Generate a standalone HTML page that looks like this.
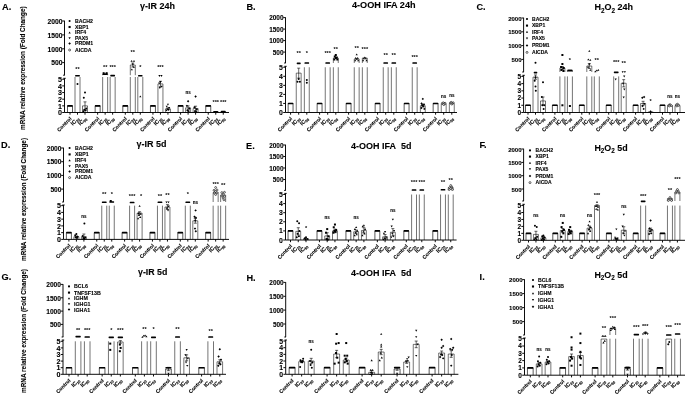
<!DOCTYPE html>
<html><head><meta charset="utf-8"><title>Figure</title>
<style>
html,body{margin:0;padding:0;background:#fff;}
svg{display:block;font-family:"Liberation Sans", sans-serif;opacity:0.999;will-change:transform;}
.b{font-weight:bold;fill:#000;stroke:#000;stroke-width:0.1px;}
.e{text-anchor:end;}
.n{stroke:none;}
.m{text-anchor:middle;}
.ax{stroke:#000;stroke-width:0.95;fill:none;}
.bar{stroke:#000;stroke-width:0.55;fill:none;}
.ctl{stroke:#000;stroke-width:0.65;}
.err{stroke:#000;stroke-width:0.6;fill:none;}
</style></head><body>
<svg width="685" height="396" viewBox="0 0 685 396">
<rect width="685" height="396" fill="#fff"/>
<text x="2" y="10.4" font-size="9.2" class="b">A.</text>
<text x="140" y="8.6" font-size="9.6" class="b" textLength="35" lengthAdjust="spacingAndGlyphs">γ-IR 24h</text>
<text transform="translate(24.8 130) rotate(-90)" font-size="6.8" class="b" textLength="123.6" lengthAdjust="spacingAndGlyphs">mRNA relative expression (Fold Change)</text>
<path class="ax" d="M64.5 20.7V75.2M64.5 78.3V112.5H229"/>
<path class="ax" d="M63.1 75.2H64.8M63.3 78.3H65.7"/>
<text x="62.5" y="23.78" font-size="6.75" class="b e">2000</text>
<text x="62.5" y="37.68" font-size="6.75" class="b e">1500</text>
<text x="62.5" y="51.58" font-size="6.75" class="b e">1000</text>
<text x="62.5" y="65.38" font-size="6.75" class="b e">500</text>
<text x="61.9" y="115.18" font-size="7.2" class="b e">0</text>
<text x="61.9" y="108.53" font-size="7.2" class="b e">1</text>
<text x="61.9" y="101.88" font-size="7.2" class="b e">2</text>
<text x="61.9" y="95.23" font-size="7.2" class="b e">3</text>
<text x="61.9" y="88.58" font-size="7.2" class="b e">4</text>
<text x="61.9" y="81.93" font-size="7.2" class="b e">5</text>
<path class="ax" d="M62.2 21H64.5M62.2 34.9H64.5M62.2 48.8H64.5M62.2 62.6H64.5M62.2 112.5H64.5M62.2 105.85H64.5M62.2 99.2H64.5M62.2 92.55H64.5M62.2 85.9H64.5M62.2 79.25H64.5"/>
<circle cx="69.6" cy="21" r="1.05"/>
<text x="75" y="22.87" font-size="5.2" class="b">BACH2</text>
<rect x="68.55" y="25.95" width="2.1" height="2.1"/>
<text x="75" y="28.87" font-size="5.2" class="b">XBP1</text>
<path d="M69.6 31.45L70.75 33.44L68.44 33.44Z"/>
<text x="75" y="34.47" font-size="5.2" class="b">IRF4</text>
<path d="M69.6 39.16L70.75 37.16L68.44 37.16Z"/>
<text x="75" y="39.87" font-size="5.2" class="b">PAX5</text>
<path d="M69.6 42.34L70.86 43.6L69.6 44.86L68.34 43.6Z"/>
<text x="75" y="45.47" font-size="5.2" class="b">PRDM1</text>
<circle cx="69.6" cy="50" r="1" fill="#fff" stroke="#000" stroke-width="0.6"/>
<text x="75" y="51.87" font-size="5.2" class="b">AICDA</text>
<text transform="translate(72 119.1) rotate(-45)" font-size="5.1" class="b e">Control</text>
<path class="bar ctl" d="M67.5 112.5V105.85H72.5V112.5"/>
<rect x="67.25" y="105.05" width="5.5" height="1.6" rx="0.6"/>
<text transform="translate(79.5 119.1) rotate(-45)" font-size="5.6" class="b e">IC<tspan font-size="3.47" dy="1.1">20</tspan></text>
<path class="bar" d="M75 112.5V77M80 112.5V77"/>
<rect x="75.1" y="75" width="4.8" height="1.6" rx="0.6"/>
<circle cx="77.5" cy="83.91" r="1"/>
<text x="77.5" y="70.6" font-size="5.6" class="b m n">**</text>
<text transform="translate(87 119.1) rotate(-45)" font-size="5.6" class="b e">IC<tspan font-size="3.47" dy="1.1">50</tspan></text>
<path class="bar" d="M82.5 112.5V105.85H87.5V112.5"/>
<path class="err" d="M85 101.86V109.84M83.5 101.86h3M83.5 109.84h3"/>
<circle cx="85" cy="92.55" r="1"/>
<circle cx="83.8" cy="97.87" r="1"/>
<circle cx="86.2" cy="108.51" r="1"/>
<circle cx="84.4" cy="109.84" r="1"/>
<circle cx="85.6" cy="110.5" r="1"/>
<circle cx="83.5" cy="111.17" r="1"/>
<text transform="translate(99.65 119.1) rotate(-45)" font-size="5.1" class="b e">Control</text>
<path class="bar ctl" d="M95.15 112.5V105.85H100.15V112.5"/>
<rect x="94.9" y="105.05" width="5.5" height="1.6" rx="0.6"/>
<text transform="translate(107.15 119.1) rotate(-45)" font-size="5.6" class="b e">IC<tspan font-size="3.47" dy="1.1">20</tspan></text>
<path class="bar" d="M102.65 112.5V77M107.65 112.5V77"/>
<path class="bar" d="M102.65 75.2V74H107.65V75.2"/>
<rect x="102.75" y="73.4" width="4.8" height="1.6" rx="0.6"/>
<rect x="102.65" y="72.2" width="2" height="2"/>
<rect x="105.65" y="72.2" width="2" height="2"/>
<text x="105.15" y="69" font-size="5.6" class="b m n">**</text>
<text transform="translate(114.65 119.1) rotate(-45)" font-size="5.6" class="b e">IC<tspan font-size="3.47" dy="1.1">50</tspan></text>
<path class="bar" d="M110.15 112.5V77M115.15 112.5V77"/>
<rect x="110.25" y="74.8" width="4.8" height="1.6" rx="0.6"/>
<text x="112.65" y="69" font-size="5.6" class="b m n">***</text>
<text transform="translate(127.3 119.1) rotate(-45)" font-size="5.1" class="b e">Control</text>
<path class="bar ctl" d="M122.8 112.5V105.85H127.8V112.5"/>
<rect x="122.55" y="105.05" width="5.5" height="1.6" rx="0.6"/>
<text transform="translate(134.8 119.1) rotate(-45)" font-size="5.6" class="b e">IC<tspan font-size="3.47" dy="1.1">20</tspan></text>
<path class="bar" d="M130.3 112.5V77M135.3 112.5V77"/>
<path class="bar" d="M130.3 75.2V65H135.3V75.2"/>
<path class="err" d="M132.8 63V67M131.3 63h3M131.3 67h3"/>
<path d="M131.6 59.9L132.7 61.8L130.5 61.8Z"/>
<path d="M134 59.9L135.1 61.8L132.9 61.8Z"/>
<path d="M132.8 62.9L133.9 64.8L131.7 64.8Z"/>
<path d="M133.8 65.9L134.9 67.8L132.7 67.8Z"/>
<path d="M131.8 68.4L132.9 70.3L130.7 70.3Z"/>
<text x="132.8" y="54.2" font-size="5.6" class="b m n">**</text>
<text transform="translate(142.3 119.1) rotate(-45)" font-size="5.6" class="b e">IC<tspan font-size="3.47" dy="1.1">50</tspan></text>
<path class="bar" d="M137.8 112.5V77M142.8 112.5V77"/>
<rect x="138.05" y="75" width="4.5" height="1.6" rx="0.6"/>
<path d="M140.3 95.44L141.4 97.34L139.2 97.34Z"/>
<text x="140.3" y="68.6" font-size="5.6" class="b m n">*</text>
<text transform="translate(154.95 119.1) rotate(-45)" font-size="5.1" class="b e">Control</text>
<path class="bar ctl" d="M150.45 112.5V105.85H155.45V112.5"/>
<rect x="150.2" y="105.05" width="5.5" height="1.6" rx="0.6"/>
<text transform="translate(162.45 119.1) rotate(-45)" font-size="5.6" class="b e">IC<tspan font-size="3.47" dy="1.1">20</tspan></text>
<path class="bar" d="M157.95 112.5V83.91H162.95V112.5"/>
<path class="err" d="M160.45 81.25V86.56M158.95 81.25h3M158.95 86.56h3"/>
<path d="M160.45 83.01L161.55 81.11L159.35 81.11Z"/>
<path d="M159.25 84.34L160.35 82.44L158.15 82.44Z"/>
<path d="M161.65 87.66L162.75 85.77L160.55 85.77Z"/>
<path d="M159.85 88.99L160.95 87.09L158.75 87.09Z"/>
<path d="M159.45 76.9L160.55 75L158.35 75Z"/>
<path d="M161.45 76.9L162.55 75L160.35 75Z"/>
<text x="160.45" y="68.6" font-size="5.6" class="b m n">***</text>
<text transform="translate(169.95 119.1) rotate(-45)" font-size="5.6" class="b e">IC<tspan font-size="3.47" dy="1.1">50</tspan></text>
<path class="bar" d="M165.45 112.5V108.84H170.45V112.5"/>
<path class="err" d="M167.95 107.84V109.84M166.45 107.84h3M166.45 109.84h3"/>
<path d="M167.95 105.62L169.05 103.72L166.85 103.72Z"/>
<path d="M166.75 107.61L167.85 105.72L165.65 105.72Z"/>
<path d="M169.15 108.94L170.25 107.05L168.05 107.05Z"/>
<path d="M167.35 110.27L168.45 108.38L166.25 108.38Z"/>
<path d="M168.55 110.94L169.65 109.04L167.45 109.04Z"/>
<path d="M166.45 111.6L167.55 109.7L165.35 109.7Z"/>
<text transform="translate(182.6 119.1) rotate(-45)" font-size="5.1" class="b e">Control</text>
<path class="bar ctl" d="M178.1 112.5V105.85H183.1V112.5"/>
<rect x="177.85" y="105.05" width="5.5" height="1.6" rx="0.6"/>
<text transform="translate(190.1 119.1) rotate(-45)" font-size="5.6" class="b e">IC<tspan font-size="3.47" dy="1.1">20</tspan></text>
<path class="bar" d="M185.6 112.5V107.84H190.6V112.5"/>
<path class="err" d="M188.1 105.85V109.84M186.6 105.85h3M186.6 109.84h3"/>
<path d="M188.1 99.99L189.3 101.19L188.1 102.39L186.9 101.19Z"/>
<path d="M186.9 104.65L188.1 105.85L186.9 107.05L185.7 105.85Z"/>
<path d="M189.3 107.31L190.5 108.51L189.3 109.71L188.1 108.51Z"/>
<path d="M187.5 109.3L188.7 110.5L187.5 111.7L186.3 110.5Z"/>
<path d="M188.7 109.97L189.9 111.17L188.7 112.37L187.5 111.17Z"/>
<text x="188.1" y="93.9" font-size="4.5" class="b m">ns</text>
<text transform="translate(197.6 119.1) rotate(-45)" font-size="5.6" class="b e">IC<tspan font-size="3.47" dy="1.1">50</tspan></text>
<path class="bar" d="M193.1 112.5V108.51H198.1V112.5"/>
<path class="err" d="M195.6 106.18V110.84M194.1 106.18h3M194.1 110.84h3"/>
<path d="M195.6 95.34L196.8 96.54L195.6 97.74L194.4 96.54Z"/>
<path d="M194.4 105.98L195.6 107.18L194.4 108.38L193.2 107.18Z"/>
<path d="M196.8 107.97L198 109.17L196.8 110.38L195.6 109.17Z"/>
<path d="M195 109.97L196.2 111.17L195 112.37L193.8 111.17Z"/>
<path d="M196.2 110.63L197.4 111.83L196.2 113.03L195 111.83Z"/>
<text transform="translate(210.25 119.1) rotate(-45)" font-size="5.1" class="b e">Control</text>
<path class="bar ctl" d="M205.75 112.5V105.85H210.75V112.5"/>
<rect x="205.5" y="105.05" width="5.5" height="1.6" rx="0.6"/>
<text transform="translate(217.75 119.1) rotate(-45)" font-size="5.6" class="b e">IC<tspan font-size="3.47" dy="1.1">20</tspan></text>
<path class="bar" d="M213.25 112.5V111.83H218.25V112.5"/>
<rect x="213.35" y="110.9" width="4.8" height="1.6" rx="0.6"/>
<text x="215.75" y="103.6" font-size="5.6" class="b m n">***</text>
<text transform="translate(225.25 119.1) rotate(-45)" font-size="5.6" class="b e">IC<tspan font-size="3.47" dy="1.1">50</tspan></text>
<path class="bar" d="M220.75 112.5V111.83H225.75V112.5"/>
<rect x="220.85" y="110.77" width="4.8" height="1.6" rx="0.6"/>
<text x="223.25" y="103.6" font-size="5.6" class="b m n">***</text>
<path class="ax" d="M70 112.5v2.2M77.5 112.5v2.2M85 112.5v2.2M97.65 112.5v2.2M105.15 112.5v2.2M112.65 112.5v2.2M125.3 112.5v2.2M132.8 112.5v2.2M140.3 112.5v2.2M152.95 112.5v2.2M160.45 112.5v2.2M167.95 112.5v2.2M180.6 112.5v2.2M188.1 112.5v2.2M195.6 112.5v2.2M208.25 112.5v2.2M215.75 112.5v2.2M223.25 112.5v2.2"/>
<text x="246.4" y="9.6" font-size="9.2" class="b">B.</text>
<text x="352" y="8.4" font-size="9.6" class="b" textLength="63.6" lengthAdjust="spacingAndGlyphs">4-OOH IFA 24h</text>
<path class="ax" d="M285.5 17.3V63M285.5 66.3V112.5H457"/>
<path class="ax" d="M284.1 63H285.8M284.3 66.3H286.7"/>
<text x="283.5" y="20.27" font-size="6.45" class="b e">2000</text>
<text x="283.5" y="31.77" font-size="6.45" class="b e">1500</text>
<text x="283.5" y="43.27" font-size="6.45" class="b e">1000</text>
<text x="283.5" y="54.77" font-size="6.45" class="b e">500</text>
<text x="282.9" y="115.07" font-size="6.9" class="b e">0</text>
<text x="282.9" y="106.02" font-size="6.9" class="b e">1</text>
<text x="282.9" y="96.97" font-size="6.9" class="b e">2</text>
<text x="282.9" y="87.92" font-size="6.9" class="b e">3</text>
<text x="282.9" y="78.87" font-size="6.9" class="b e">4</text>
<text x="282.9" y="69.82" font-size="6.9" class="b e">5</text>
<path class="ax" d="M283.2 17.6H285.5M283.2 29.1H285.5M283.2 40.6H285.5M283.2 52.1H285.5M283.2 112.5H285.5M283.2 103.45H285.5M283.2 94.4H285.5M283.2 85.35H285.5M283.2 76.3H285.5M283.2 67.25H285.5"/>
<text transform="translate(292.6 119.1) rotate(-45)" font-size="5.1" class="b e">Control</text>
<path class="bar ctl" d="M288.15 112.5V103.45H293.05V112.5"/>
<rect x="287.9" y="102.65" width="5.4" height="1.6" rx="0.6"/>
<text transform="translate(300.7 119.1) rotate(-45)" font-size="5.6" class="b e">IC<tspan font-size="3.47" dy="1.1">20</tspan></text>
<path class="bar" d="M296.25 112.5V73.13H301.15V112.5"/>
<path class="err" d="M298.7 68.15V78.11M297.2 68.15h3M297.2 78.11h3"/>
<rect x="296.7" y="62.6" width="4" height="1.6" rx="0.6"/>
<circle cx="298.7" cy="79.01" r="1"/>
<circle cx="297.5" cy="81.73" r="1"/>
<circle cx="299.9" cy="81.73" r="1"/>
<text x="298.7" y="54.6" font-size="5.6" class="b m n">**</text>
<text transform="translate(308.8 119.1) rotate(-45)" font-size="5.6" class="b e">IC<tspan font-size="3.47" dy="1.1">50</tspan></text>
<path class="bar" d="M304.35 112.5V67.25M309.25 112.5V67.25"/>
<rect x="304.45" y="62.2" width="4.7" height="1.6" rx="0.6"/>
<circle cx="306.8" cy="79.92" r="1"/>
<circle cx="306.8" cy="82.63" r="1"/>
<text x="306.8" y="54.6" font-size="5.6" class="b m n">*</text>
<text transform="translate(321.6 119.1) rotate(-45)" font-size="5.1" class="b e">Control</text>
<path class="bar ctl" d="M317.15 112.5V103.45H322.05V112.5"/>
<rect x="316.9" y="102.65" width="5.4" height="1.6" rx="0.6"/>
<text transform="translate(329.7 119.1) rotate(-45)" font-size="5.6" class="b e">IC<tspan font-size="3.47" dy="1.1">20</tspan></text>
<path class="bar" d="M325.25 112.5V67.25M330.15 112.5V67.25"/>
<rect x="325.35" y="62.2" width="4.7" height="1.6" rx="0.6"/>
<text x="327.7" y="54.6" font-size="5.6" class="b m n">***</text>
<text transform="translate(337.8 119.1) rotate(-45)" font-size="5.6" class="b e">IC<tspan font-size="3.47" dy="1.1">50</tspan></text>
<path class="bar" d="M333.35 112.5V67.25M338.25 112.5V67.25"/>
<path class="bar" d="M333.35 63V58H338.25V63"/>
<rect x="333.3" y="58.5" width="2" height="2"/>
<rect x="336.3" y="58.5" width="2" height="2"/>
<rect x="334.8" y="57" width="2" height="2"/>
<rect x="333.8" y="55.5" width="2" height="2"/>
<rect x="335.8" y="56.5" width="2" height="2"/>
<rect x="334.8" y="54" width="2" height="2"/>
<text x="335.8" y="51.2" font-size="5.6" class="b m n">**</text>
<text transform="translate(350.6 119.1) rotate(-45)" font-size="5.1" class="b e">Control</text>
<path class="bar ctl" d="M346.15 112.5V103.45H351.05V112.5"/>
<rect x="345.9" y="102.65" width="5.4" height="1.6" rx="0.6"/>
<text transform="translate(358.7 119.1) rotate(-45)" font-size="5.6" class="b e">IC<tspan font-size="3.47" dy="1.1">20</tspan></text>
<path class="bar" d="M354.25 112.5V67.25M359.15 112.5V67.25"/>
<path class="bar" d="M354.25 63V59H359.15V63"/>
<path d="M355.2 59.4L356.3 61.3L354.1 61.3Z"/>
<path d="M358.2 59.4L359.3 61.3L357.1 61.3Z"/>
<path d="M356.7 57.9L357.8 59.8L355.6 59.8Z"/>
<path d="M355.7 56.9L356.8 58.8L354.6 58.8Z"/>
<path d="M357.7 56.9L358.8 58.8L356.6 58.8Z"/>
<path d="M356.7 53.4L357.8 55.3L355.6 55.3Z"/>
<text x="356.7" y="50.2" font-size="5.6" class="b m n">**</text>
<text transform="translate(366.8 119.1) rotate(-45)" font-size="5.6" class="b e">IC<tspan font-size="3.47" dy="1.1">50</tspan></text>
<path class="bar" d="M362.35 112.5V67.25M367.25 112.5V67.25"/>
<path class="bar" d="M362.35 63V58H367.25V63"/>
<path d="M363.1 59.4L364.2 61.3L362 61.3Z"/>
<path d="M366.5 59.4L367.6 61.3L365.4 61.3Z"/>
<path d="M363.8 57.4L364.9 59.3L362.7 59.3Z"/>
<path d="M365.8 57.4L366.9 59.3L364.7 59.3Z"/>
<path d="M364.8 56.4L365.9 58.3L363.7 58.3Z"/>
<text x="364.8" y="51.2" font-size="5.6" class="b m n">***</text>
<text transform="translate(379.6 119.1) rotate(-45)" font-size="5.1" class="b e">Control</text>
<path class="bar ctl" d="M375.15 112.5V103.45H380.05V112.5"/>
<rect x="374.9" y="102.65" width="5.4" height="1.6" rx="0.6"/>
<text transform="translate(387.7 119.1) rotate(-45)" font-size="5.6" class="b e">IC<tspan font-size="3.47" dy="1.1">20</tspan></text>
<path class="bar" d="M383.25 112.5V67.25M388.15 112.5V67.25"/>
<rect x="383.35" y="62.2" width="4.7" height="1.6" rx="0.6"/>
<text x="385.7" y="56.6" font-size="5.6" class="b m n">**</text>
<text transform="translate(395.8 119.1) rotate(-45)" font-size="5.6" class="b e">IC<tspan font-size="3.47" dy="1.1">50</tspan></text>
<path class="bar" d="M391.35 112.5V67.25M396.25 112.5V67.25"/>
<rect x="391.45" y="62.2" width="4.7" height="1.6" rx="0.6"/>
<text x="393.8" y="56.6" font-size="5.6" class="b m n">**</text>
<text transform="translate(408.6 119.1) rotate(-45)" font-size="5.1" class="b e">Control</text>
<path class="bar ctl" d="M404.15 112.5V103.45H409.05V112.5"/>
<rect x="403.9" y="102.65" width="5.4" height="1.6" rx="0.6"/>
<text transform="translate(416.7 119.1) rotate(-45)" font-size="5.6" class="b e">IC<tspan font-size="3.47" dy="1.1">20</tspan></text>
<path class="bar" d="M412.25 112.5V67.25M417.15 112.5V67.25"/>
<rect x="412.35" y="62.2" width="4.7" height="1.6" rx="0.6"/>
<text x="414.7" y="58.6" font-size="5.6" class="b m n">***</text>
<text transform="translate(424.8 119.1) rotate(-45)" font-size="5.6" class="b e">IC<tspan font-size="3.47" dy="1.1">50</tspan></text>
<path class="bar" d="M420.35 112.5V105.71H425.25V112.5"/>
<path class="err" d="M422.8 104.36V107.07M421.3 104.36h3M421.3 107.07h3"/>
<path d="M422.8 97.72L424 98.92L422.8 100.12L421.6 98.92Z"/>
<path d="M421.6 102.25L422.8 103.45L421.6 104.65L420.4 103.45Z"/>
<path d="M424 103.16L425.2 104.36L424 105.56L422.8 104.36Z"/>
<path d="M422.2 104.06L423.4 105.26L422.2 106.46L421 105.26Z"/>
<path d="M423.4 104.97L424.6 106.17L423.4 107.37L422.2 106.17Z"/>
<path d="M421.3 106.77L422.5 107.97L421.3 109.17L420.1 107.97Z"/>
<path d="M424.3 107.68L425.5 108.88L424.3 110.08L423.1 108.88Z"/>
<text transform="translate(437.6 119.1) rotate(-45)" font-size="5.1" class="b e">Control</text>
<path class="bar ctl" d="M433.15 112.5V103.45H438.05V112.5"/>
<rect x="432.9" y="102.65" width="5.4" height="1.6" rx="0.6"/>
<text transform="translate(445.7 119.1) rotate(-45)" font-size="5.6" class="b e">IC<tspan font-size="3.47" dy="1.1">20</tspan></text>
<path class="bar" d="M441.25 112.5V103.9H446.15V112.5"/>
<circle cx="442.3" cy="103.45" r="0.95" fill="#fff" stroke="#000" stroke-width="0.6"/>
<circle cx="445.1" cy="103.27" r="0.95" fill="#fff" stroke="#000" stroke-width="0.6"/>
<circle cx="443.2" cy="102.73" r="0.95" fill="#fff" stroke="#000" stroke-width="0.6"/>
<circle cx="444.3" cy="103.9" r="0.95" fill="#fff" stroke="#000" stroke-width="0.6"/>
<circle cx="443.7" cy="104.54" r="0.95" fill="#fff" stroke="#000" stroke-width="0.6"/>
<text x="443.7" y="98.3" font-size="4.5" class="b m">ns</text>
<text transform="translate(453.8 119.1) rotate(-45)" font-size="5.6" class="b e">IC<tspan font-size="3.47" dy="1.1">50</tspan></text>
<path class="bar" d="M449.35 112.5V103.45H454.25V112.5"/>
<circle cx="450.4" cy="103" r="0.95" fill="#fff" stroke="#000" stroke-width="0.6"/>
<circle cx="453.2" cy="102.73" r="0.95" fill="#fff" stroke="#000" stroke-width="0.6"/>
<circle cx="451.3" cy="102.36" r="0.95" fill="#fff" stroke="#000" stroke-width="0.6"/>
<circle cx="452.4" cy="103.45" r="0.95" fill="#fff" stroke="#000" stroke-width="0.6"/>
<circle cx="451.8" cy="104.08" r="0.95" fill="#fff" stroke="#000" stroke-width="0.6"/>
<text x="451.8" y="97.3" font-size="4.5" class="b m">ns</text>
<path class="ax" d="M290.6 112.5v2.2M298.7 112.5v2.2M306.8 112.5v2.2M319.6 112.5v2.2M327.7 112.5v2.2M335.8 112.5v2.2M348.6 112.5v2.2M356.7 112.5v2.2M364.8 112.5v2.2M377.6 112.5v2.2M385.7 112.5v2.2M393.8 112.5v2.2M406.6 112.5v2.2M414.7 112.5v2.2M422.8 112.5v2.2M435.6 112.5v2.2M443.7 112.5v2.2M451.8 112.5v2.2"/>
<text x="476.4" y="9.8" font-size="9.2" class="b">C.</text>
<text x="594.4" y="10.4" font-size="9.6" class="b" textLength="38.6" lengthAdjust="spacingAndGlyphs">H<tspan font-size="6.8" dy="2.4">2</tspan><tspan dy="-2.4">O</tspan><tspan font-size="6.8" dy="2.4">2</tspan><tspan dy="-2.4"> 24h</tspan></text>
<path class="ax" d="M523.6 17.7V72M523.6 75.3V112.5H685"/>
<path class="ax" d="M522.2 72H523.9M522.4 75.3H524.8"/>
<text x="521.6" y="20.52" font-size="6.05" class="b e">2000</text>
<text x="521.6" y="34.32" font-size="6.05" class="b e">1500</text>
<text x="521.6" y="48.12" font-size="6.05" class="b e">1000</text>
<text x="521.6" y="61.92" font-size="6.05" class="b e">500</text>
<text x="521" y="114.92" font-size="6.5" class="b e">0</text>
<text x="521" y="107.7" font-size="6.5" class="b e">1</text>
<text x="521" y="100.48" font-size="6.5" class="b e">2</text>
<text x="521" y="93.26" font-size="6.5" class="b e">3</text>
<text x="521" y="86.04" font-size="6.5" class="b e">4</text>
<text x="521" y="78.82" font-size="6.5" class="b e">5</text>
<path class="ax" d="M521.3 18H523.6M521.3 31.8H523.6M521.3 45.6H523.6M521.3 59.4H523.6M521.3 112.5H523.6M521.3 105.28H523.6M521.3 98.06H523.6M521.3 90.84H523.6M521.3 83.62H523.6M521.3 76.4H523.6"/>
<circle cx="527" cy="19" r="1.05"/>
<text x="532" y="20.82" font-size="5.05" class="b">BACH2</text>
<rect x="525.95" y="24.55" width="2.1" height="2.1"/>
<text x="532" y="27.42" font-size="5.05" class="b">XBP1</text>
<path d="M527 30.84L528.15 32.84L525.85 32.84Z"/>
<text x="532" y="33.82" font-size="5.05" class="b">IRF4</text>
<path d="M527 39.55L528.15 37.56L525.85 37.56Z"/>
<text x="532" y="40.22" font-size="5.05" class="b">PAX5</text>
<path d="M527 44.14L528.26 45.4L527 46.66L525.74 45.4Z"/>
<text x="532" y="47.22" font-size="5.05" class="b">PRDM1</text>
<circle cx="527" cy="52.4" r="1" fill="#fff" stroke="#000" stroke-width="0.6"/>
<text x="532" y="54.22" font-size="5.05" class="b">AICDA</text>
<text transform="translate(530 119.1) rotate(-45)" font-size="5.1" class="b e">Control</text>
<path class="bar ctl" d="M525.5 112.5V105.28H530.5V112.5"/>
<rect x="525.25" y="104.48" width="5.5" height="1.6" rx="0.6"/>
<text transform="translate(537.5 119.1) rotate(-45)" font-size="5.6" class="b e">IC<tspan font-size="3.47" dy="1.1">20</tspan></text>
<path class="bar" d="M533 112.5V77.12H538V112.5"/>
<path class="err" d="M535.5 74.96V79.29M534 74.96h3M534 79.29h3"/>
<rect x="533.7" y="71.8" width="3.6" height="1.6" rx="0.6"/>
<circle cx="535.5" cy="62.7" r="1"/>
<circle cx="535.5" cy="77.48" r="1"/>
<circle cx="534.7" cy="80.73" r="1"/>
<circle cx="535.5" cy="86.51" r="1"/>
<circle cx="535.8" cy="90.84" r="1"/>
<text transform="translate(545 119.1) rotate(-45)" font-size="5.6" class="b e">IC<tspan font-size="3.47" dy="1.1">50</tspan></text>
<path class="bar" d="M540.5 112.5V100.95H545.5V112.5"/>
<path class="err" d="M543 96.98V104.92M541.5 96.98h3M541.5 104.92h3"/>
<circle cx="543" cy="82.18" r="1"/>
<circle cx="541.8" cy="96.98" r="1"/>
<circle cx="544.2" cy="105.28" r="1"/>
<circle cx="542.4" cy="105.28" r="1"/>
<circle cx="543.6" cy="108.89" r="1"/>
<text transform="translate(556.9 119.1) rotate(-45)" font-size="5.1" class="b e">Control</text>
<path class="bar ctl" d="M552.4 112.5V105.28H557.4V112.5"/>
<rect x="552.15" y="104.48" width="5.5" height="1.6" rx="0.6"/>
<text transform="translate(564.4 119.1) rotate(-45)" font-size="5.6" class="b e">IC<tspan font-size="3.47" dy="1.1">20</tspan></text>
<path class="bar" d="M559.9 112.5V76.4M564.9 112.5V76.4"/>
<path class="bar" d="M559.9 72V68H564.9V72"/>
<path class="err" d="M562.4 66.5V69.5M560.9 66.5h3M560.9 69.5h3"/>
<rect x="561.4" y="54" width="2" height="2"/>
<rect x="561.4" y="63" width="2" height="2"/>
<rect x="560.1" y="66" width="2" height="2"/>
<rect x="562.7" y="67" width="2" height="2"/>
<rect x="560.4" y="69" width="2" height="2"/>
<rect x="562.4" y="70" width="2" height="2"/>
<rect x="561.4" y="104.28" width="2" height="2"/>
<text transform="translate(571.9 119.1) rotate(-45)" font-size="5.6" class="b e">IC<tspan font-size="3.47" dy="1.1">50</tspan></text>
<path class="bar" d="M567.4 112.5V76.4M572.4 112.5V76.4"/>
<path class="bar" d="M567.4 72V70H572.4V72"/>
<rect x="567.5" y="69.8" width="4.8" height="1.6" rx="0.6"/>
<rect x="568.9" y="105" width="2" height="2"/>
<text x="569.9" y="62" font-size="5.6" class="b m n">*</text>
<text transform="translate(583.8 119.1) rotate(-45)" font-size="5.1" class="b e">Control</text>
<path class="bar ctl" d="M579.3 112.5V105.28H584.3V112.5"/>
<rect x="579.05" y="104.48" width="5.5" height="1.6" rx="0.6"/>
<text transform="translate(591.3 119.1) rotate(-45)" font-size="5.6" class="b e">IC<tspan font-size="3.47" dy="1.1">20</tspan></text>
<path class="bar" d="M586.8 112.5V76.4M591.8 112.5V76.4"/>
<path class="bar" d="M586.8 72V66H591.8V72"/>
<path class="err" d="M589.3 63.5V68.5M587.8 63.5h3M587.8 68.5h3"/>
<path d="M589.3 49.9L590.4 51.8L588.2 51.8Z"/>
<path d="M588.3 58.4L589.4 60.3L587.2 60.3Z"/>
<path d="M590.3 58.9L591.4 60.8L589.2 60.8Z"/>
<path d="M589.3 62.9L590.4 64.8L588.2 64.8Z"/>
<path d="M588.1 65.9L589.2 67.8L587 67.8Z"/>
<path d="M590.3 68.9L591.4 70.8L589.2 70.8Z"/>
<text transform="translate(598.8 119.1) rotate(-45)" font-size="5.6" class="b e">IC<tspan font-size="3.47" dy="1.1">50</tspan></text>
<path class="bar" d="M594.3 112.5V76.4M599.3 112.5V76.4"/>
<path d="M595.3 70.4L596.4 72.3L594.2 72.3Z"/>
<path d="M596.8 69.4L597.9 71.3L595.7 71.3Z"/>
<path d="M598.3 68.9L599.4 70.8L597.2 70.8Z"/>
<text x="596.8" y="62" font-size="5.6" class="b m n">**</text>
<text transform="translate(610.7 119.1) rotate(-45)" font-size="5.1" class="b e">Control</text>
<path class="bar ctl" d="M606.2 112.5V105.28H611.2V112.5"/>
<rect x="605.95" y="104.48" width="5.5" height="1.6" rx="0.6"/>
<text transform="translate(618.2 119.1) rotate(-45)" font-size="5.6" class="b e">IC<tspan font-size="3.47" dy="1.1">20</tspan></text>
<path class="bar" d="M613.7 112.5V76.4M618.7 112.5V76.4"/>
<rect x="613.8" y="71.6" width="4.8" height="1.6" rx="0.6"/>
<path d="M615.7 80.39L616.8 78.49L614.6 78.49Z"/>
<text x="616.2" y="63.6" font-size="5.6" class="b m n">***</text>
<text transform="translate(625.7 119.1) rotate(-45)" font-size="5.6" class="b e">IC<tspan font-size="3.47" dy="1.1">50</tspan></text>
<path class="bar" d="M621.2 112.5V83.26H626.2V112.5"/>
<path class="err" d="M623.7 79.65V86.87M622.2 79.65h3M622.2 86.87h3"/>
<path d="M622.7 73.1L623.8 71.2L621.6 71.2Z"/>
<path d="M624.9 73.1L626 71.2L623.8 71.2Z"/>
<path d="M624.2 77.5L625.3 75.6L623.1 75.6Z"/>
<path d="M623.1 84.72L624.2 82.82L622 82.82Z"/>
<path d="M624.3 90.5L625.4 88.6L623.2 88.6Z"/>
<path d="M623.7 98.44L624.8 96.54L622.6 96.54Z"/>
<text x="623.7" y="65.2" font-size="5.6" class="b m n">**</text>
<text transform="translate(637.6 119.1) rotate(-45)" font-size="5.1" class="b e">Control</text>
<path class="bar ctl" d="M633.1 112.5V105.28H638.1V112.5"/>
<rect x="632.85" y="104.48" width="5.5" height="1.6" rx="0.6"/>
<text transform="translate(645.1 119.1) rotate(-45)" font-size="5.6" class="b e">IC<tspan font-size="3.47" dy="1.1">20</tspan></text>
<path class="bar" d="M640.6 112.5V103.47H645.6V112.5"/>
<path class="err" d="M643.1 101.31V105.64M641.6 101.31h3M641.6 105.64h3"/>
<path d="M642.3 96.5L643.5 97.7L642.3 98.9L641.1 97.7Z"/>
<path d="M644.1 95.78L645.3 96.98L644.1 98.18L642.9 96.98Z"/>
<path d="M644.3 102.64L645.5 103.84L644.3 105.04L643.1 103.84Z"/>
<path d="M642.5 104.8L643.7 106L642.5 107.2L641.3 106Z"/>
<path d="M643.7 107.69L644.9 108.89L643.7 110.09L642.5 108.89Z"/>
<text transform="translate(652.6 119.1) rotate(-45)" font-size="5.6" class="b e">IC<tspan font-size="3.47" dy="1.1">50</tspan></text>
<path class="bar" d="M648.1 112.5V111.92H653.1V112.5"/>
<path d="M650.6 110.22L651.8 111.42L650.6 112.62L649.4 111.42Z"/>
<text x="650.6" y="103.1" font-size="5.6" class="b m n">*</text>
<text transform="translate(664.5 119.1) rotate(-45)" font-size="5.1" class="b e">Control</text>
<path class="bar ctl" d="M660 112.5V105.28H665V112.5"/>
<rect x="659.75" y="104.48" width="5.5" height="1.6" rx="0.6"/>
<text transform="translate(672 119.1) rotate(-45)" font-size="5.6" class="b e">IC<tspan font-size="3.47" dy="1.1">20</tspan></text>
<path class="bar" d="M667.5 112.5V105.64H672.5V112.5"/>
<circle cx="670" cy="104.56" r="0.95" fill="#fff" stroke="#000" stroke-width="0.6"/>
<circle cx="668.8" cy="105.28" r="0.95" fill="#fff" stroke="#000" stroke-width="0.6"/>
<circle cx="671.2" cy="105.64" r="0.95" fill="#fff" stroke="#000" stroke-width="0.6"/>
<circle cx="669.4" cy="106" r="0.95" fill="#fff" stroke="#000" stroke-width="0.6"/>
<text x="670" y="98.3" font-size="4.5" class="b m">ns</text>
<text transform="translate(679.5 119.1) rotate(-45)" font-size="5.6" class="b e">IC<tspan font-size="3.47" dy="1.1">50</tspan></text>
<path class="bar" d="M675 112.5V105.64H680V112.5"/>
<circle cx="677.5" cy="104.2" r="0.95" fill="#fff" stroke="#000" stroke-width="0.6"/>
<circle cx="676.3" cy="104.92" r="0.95" fill="#fff" stroke="#000" stroke-width="0.6"/>
<circle cx="678.7" cy="105.28" r="0.95" fill="#fff" stroke="#000" stroke-width="0.6"/>
<circle cx="676.9" cy="106" r="0.95" fill="#fff" stroke="#000" stroke-width="0.6"/>
<text x="677.5" y="98.3" font-size="4.5" class="b m">ns</text>
<path class="ax" d="M528 112.5v2.2M535.5 112.5v2.2M543 112.5v2.2M554.9 112.5v2.2M562.4 112.5v2.2M569.9 112.5v2.2M581.8 112.5v2.2M589.3 112.5v2.2M596.8 112.5v2.2M608.7 112.5v2.2M616.2 112.5v2.2M623.7 112.5v2.2M635.6 112.5v2.2M643.1 112.5v2.2M650.6 112.5v2.2M662.5 112.5v2.2M670 112.5v2.2M677.5 112.5v2.2"/>
<text x="1" y="148" font-size="9.2" class="b">D.</text>
<text x="136.4" y="147.4" font-size="9.6" class="b" textLength="30" lengthAdjust="spacingAndGlyphs">γ-IR 5d</text>
<text transform="translate(26.2 261) rotate(-90)" font-size="6.8" class="b" textLength="123" lengthAdjust="spacingAndGlyphs">mRNA relative expression (Fold Change)</text>
<path class="ax" d="M63.5 147.7V202M63.5 205V239.4H229"/>
<path class="ax" d="M62.1 202H63.8M62.3 205H64.7"/>
<text x="61.5" y="150.74" font-size="6.65" class="b e">2000</text>
<text x="61.5" y="164.44" font-size="6.65" class="b e">1500</text>
<text x="61.5" y="178.14" font-size="6.65" class="b e">1000</text>
<text x="61.5" y="191.84" font-size="6.65" class="b e">500</text>
<text x="60.9" y="242.04" font-size="7.1" class="b e">0</text>
<text x="60.9" y="235.29" font-size="7.1" class="b e">1</text>
<text x="60.9" y="228.54" font-size="7.1" class="b e">2</text>
<text x="60.9" y="221.79" font-size="7.1" class="b e">3</text>
<text x="60.9" y="215.04" font-size="7.1" class="b e">4</text>
<text x="60.9" y="208.29" font-size="7.1" class="b e">5</text>
<path class="ax" d="M61.2 148H63.5M61.2 161.7H63.5M61.2 175.4H63.5M61.2 189.1H63.5M61.2 239.4H63.5M61.2 232.65H63.5M61.2 225.9H63.5M61.2 219.15H63.5M61.2 212.4H63.5M61.2 205.65H63.5"/>
<circle cx="69.6" cy="148" r="1.05"/>
<text x="75" y="149.87" font-size="5.2" class="b">BACH2</text>
<rect x="68.55" y="153.35" width="2.1" height="2.1"/>
<text x="75" y="156.27" font-size="5.2" class="b">XBP1</text>
<path d="M69.6 159.25L70.75 161.24L68.44 161.24Z"/>
<text x="75" y="162.27" font-size="5.2" class="b">IRF4</text>
<path d="M69.6 167.16L70.75 165.16L68.44 165.16Z"/>
<text x="75" y="167.87" font-size="5.2" class="b">PAX5</text>
<path d="M69.6 170.34L70.86 171.6L69.6 172.86L68.34 171.6Z"/>
<text x="75" y="173.47" font-size="5.2" class="b">PRDM1</text>
<circle cx="69.6" cy="177.6" r="1" fill="#fff" stroke="#000" stroke-width="0.6"/>
<text x="75" y="179.47" font-size="5.2" class="b">AICDA</text>
<text transform="translate(70.9 246) rotate(-45)" font-size="5.1" class="b e">Control</text>
<path class="bar ctl" d="M66.4 239.4V232.65H71.4V239.4"/>
<rect x="66.15" y="231.85" width="5.5" height="1.6" rx="0.6"/>
<text transform="translate(78.4 246) rotate(-45)" font-size="5.6" class="b e">IC<tspan font-size="3.47" dy="1.1">20</tspan></text>
<path class="bar" d="M73.9 239.4V236.7H78.9V239.4"/>
<path class="err" d="M76.4 236.03V237.38M74.9 236.03h3M74.9 237.38h3"/>
<circle cx="76.4" cy="234" r="1"/>
<circle cx="75.2" cy="235.35" r="1"/>
<circle cx="77.6" cy="236.7" r="1"/>
<circle cx="75.8" cy="237.38" r="1"/>
<circle cx="77" cy="238.05" r="1"/>
<text transform="translate(85.9 246) rotate(-45)" font-size="5.6" class="b e">IC<tspan font-size="3.47" dy="1.1">50</tspan></text>
<path class="bar" d="M81.4 239.4V236.7H86.4V239.4"/>
<path class="err" d="M83.9 234V239.4M82.4 234h3M82.4 239.4h3"/>
<circle cx="84.4" cy="223.54" r="1"/>
<circle cx="82.7" cy="236.03" r="1"/>
<circle cx="85.1" cy="237.38" r="1"/>
<circle cx="83.3" cy="238.05" r="1"/>
<circle cx="84.5" cy="238.72" r="1"/>
<text x="83.9" y="217.9" font-size="4.5" class="b m">ns</text>
<text transform="translate(98.75 246) rotate(-45)" font-size="5.1" class="b e">Control</text>
<path class="bar ctl" d="M94.25 239.4V232.65H99.25V239.4"/>
<rect x="94" y="231.85" width="5.5" height="1.6" rx="0.6"/>
<text transform="translate(106.25 246) rotate(-45)" font-size="5.6" class="b e">IC<tspan font-size="3.47" dy="1.1">20</tspan></text>
<path class="bar" d="M101.75 239.4V205.65M106.75 239.4V205.65"/>
<rect x="101.85" y="201.4" width="4.8" height="1.6" rx="0.6"/>
<text x="104.25" y="195.8" font-size="5.6" class="b m n">**</text>
<text transform="translate(113.75 246) rotate(-45)" font-size="5.6" class="b e">IC<tspan font-size="3.47" dy="1.1">50</tspan></text>
<path class="bar" d="M109.25 239.4V205.65M114.25 239.4V205.65"/>
<rect x="109.35" y="201.2" width="4.8" height="1.6" rx="0.6"/>
<rect x="109.75" y="200" width="2" height="2"/>
<text x="111.75" y="195.8" font-size="5.6" class="b m n">*</text>
<text transform="translate(126.6 246) rotate(-45)" font-size="5.1" class="b e">Control</text>
<path class="bar ctl" d="M122.1 239.4V232.65H127.1V239.4"/>
<rect x="121.85" y="231.85" width="5.5" height="1.6" rx="0.6"/>
<text transform="translate(134.1 246) rotate(-45)" font-size="5.6" class="b e">IC<tspan font-size="3.47" dy="1.1">20</tspan></text>
<path class="bar" d="M129.6 239.4V205.65M134.6 239.4V205.65"/>
<rect x="129.7" y="201.7" width="4.8" height="1.6" rx="0.6"/>
<text x="132.1" y="197.8" font-size="5.6" class="b m n">***</text>
<text transform="translate(141.6 246) rotate(-45)" font-size="5.6" class="b e">IC<tspan font-size="3.47" dy="1.1">50</tspan></text>
<path class="bar" d="M137.1 239.4V213.08H142.1V239.4"/>
<path class="err" d="M139.6 211.73V214.43M138.1 211.73h3M138.1 214.43h3"/>
<path d="M139.6 204.89L140.7 206.79L138.5 206.79Z"/>
<path d="M138.4 211.98L139.5 213.88L137.3 213.88Z"/>
<path d="M140.8 212.65L141.9 214.55L139.7 214.55Z"/>
<path d="M139 214L140.1 215.9L137.9 215.9Z"/>
<path d="M140.2 216.03L141.3 217.93L139.1 217.93Z"/>
<path d="M138.1 217.38L139.2 219.28L137 219.28Z"/>
<text x="141.1" y="197.8" font-size="5.6" class="b m n">*</text>
<text transform="translate(154.45 246) rotate(-45)" font-size="5.1" class="b e">Control</text>
<path class="bar ctl" d="M149.95 239.4V232.65H154.95V239.4"/>
<rect x="149.7" y="231.85" width="5.5" height="1.6" rx="0.6"/>
<text transform="translate(161.95 246) rotate(-45)" font-size="5.6" class="b e">IC<tspan font-size="3.47" dy="1.1">20</tspan></text>
<path class="bar" d="M157.45 239.4V205.65M162.45 239.4V205.65"/>
<rect x="157.55" y="201.4" width="4.8" height="1.6" rx="0.6"/>
<text x="159.95" y="197.8" font-size="5.6" class="b m n">**</text>
<text transform="translate(169.45 246) rotate(-45)" font-size="5.6" class="b e">IC<tspan font-size="3.47" dy="1.1">50</tspan></text>
<path class="bar" d="M164.95 239.4V207H169.95V239.4"/>
<path class="err" d="M167.45 204.64V209.36M165.95 204.64h3M165.95 209.36h3"/>
<path d="M166.45 203.3L167.55 201.4L165.35 201.4Z"/>
<path d="M168.45 203.3L169.55 201.4L167.35 201.4Z"/>
<path d="M168.65 207.42L169.75 205.52L167.55 205.52Z"/>
<path d="M166.85 209.45L167.95 207.55L165.75 207.55Z"/>
<path d="M168.05 211.47L169.15 209.57L166.95 209.57Z"/>
<text x="167.45" y="197.2" font-size="5.6" class="b m n">**</text>
<text transform="translate(182.3 246) rotate(-45)" font-size="5.1" class="b e">Control</text>
<path class="bar ctl" d="M177.8 239.4V232.65H182.8V239.4"/>
<rect x="177.55" y="231.85" width="5.5" height="1.6" rx="0.6"/>
<text transform="translate(189.8 246) rotate(-45)" font-size="5.6" class="b e">IC<tspan font-size="3.47" dy="1.1">20</tspan></text>
<path class="bar" d="M185.3 239.4V205.65M190.3 239.4V205.65"/>
<rect x="185.4" y="201.4" width="4.8" height="1.6" rx="0.6"/>
<text x="187.8" y="196.2" font-size="5.6" class="b m n">*</text>
<text transform="translate(197.3 246) rotate(-45)" font-size="5.6" class="b e">IC<tspan font-size="3.47" dy="1.1">50</tspan></text>
<path class="bar" d="M192.8 239.4V220.84H197.8V239.4"/>
<path class="err" d="M195.3 218.47V223.2M193.8 218.47h3M193.8 223.2h3"/>
<path d="M195.6 209.18L196.8 210.38L195.6 211.57L194.4 210.38Z"/>
<path d="M194.5 215.59L195.7 216.79L194.5 217.99L193.3 216.79Z"/>
<path d="M195.9 216.6L197.1 217.8L195.9 219L194.7 217.8Z"/>
<path d="M195.3 219.3L196.5 220.5L195.3 221.7L194.1 220.5Z"/>
<path d="M195 227.4L196.2 228.6L195 229.8L193.8 228.6Z"/>
<path d="M195.8 230.1L197 231.3L195.8 232.5L194.6 231.3Z"/>
<text x="195.3" y="203.6" font-size="4.5" class="b m">ns</text>
<text transform="translate(210.15 246) rotate(-45)" font-size="5.1" class="b e">Control</text>
<path class="bar ctl" d="M205.65 239.4V232.65H210.65V239.4"/>
<rect x="205.4" y="231.85" width="5.5" height="1.6" rx="0.6"/>
<text transform="translate(217.65 246) rotate(-45)" font-size="5.6" class="b e">IC<tspan font-size="3.47" dy="1.1">20</tspan></text>
<path class="bar" d="M213.15 239.4V205.65M218.15 239.4V205.65"/>
<path class="bar" d="M213.15 202V192.5H218.15V202"/>
<circle cx="215.65" cy="187.5" r="0.95" fill="#fff" stroke="#000" stroke-width="0.6"/>
<circle cx="214.05" cy="190.3" r="0.95" fill="#fff" stroke="#000" stroke-width="0.6"/>
<circle cx="217.05" cy="190" r="0.95" fill="#fff" stroke="#000" stroke-width="0.6"/>
<circle cx="215.35" cy="191.5" r="0.95" fill="#fff" stroke="#000" stroke-width="0.6"/>
<circle cx="214.35" cy="193" r="0.95" fill="#fff" stroke="#000" stroke-width="0.6"/>
<circle cx="216.95" cy="192.7" r="0.95" fill="#fff" stroke="#000" stroke-width="0.6"/>
<circle cx="215.65" cy="194.5" r="0.95" fill="#fff" stroke="#000" stroke-width="0.6"/>
<text x="215.65" y="186.2" font-size="5.6" class="b m n">***</text>
<text transform="translate(225.15 246) rotate(-45)" font-size="5.6" class="b e">IC<tspan font-size="3.47" dy="1.1">50</tspan></text>
<path class="bar" d="M220.65 239.4V205.65M225.65 239.4V205.65"/>
<path class="bar" d="M220.65 202V195H225.65V202"/>
<circle cx="221.85" cy="192.6" r="0.95" fill="#fff" stroke="#000" stroke-width="0.6"/>
<circle cx="224.45" cy="192.3" r="0.95" fill="#fff" stroke="#000" stroke-width="0.6"/>
<circle cx="223.15" cy="194.3" r="0.95" fill="#fff" stroke="#000" stroke-width="0.6"/>
<circle cx="221.95" cy="196" r="0.95" fill="#fff" stroke="#000" stroke-width="0.6"/>
<circle cx="224.35" cy="196.3" r="0.95" fill="#fff" stroke="#000" stroke-width="0.6"/>
<circle cx="223.15" cy="198" r="0.95" fill="#fff" stroke="#000" stroke-width="0.6"/>
<circle cx="223.95" cy="199.8" r="0.95" fill="#fff" stroke="#000" stroke-width="0.6"/>
<text x="223.15" y="187.2" font-size="5.6" class="b m n">**</text>
<path class="ax" d="M68.9 239.4v2.2M76.4 239.4v2.2M83.9 239.4v2.2M96.75 239.4v2.2M104.25 239.4v2.2M111.75 239.4v2.2M124.6 239.4v2.2M132.1 239.4v2.2M139.6 239.4v2.2M152.45 239.4v2.2M159.95 239.4v2.2M167.45 239.4v2.2M180.3 239.4v2.2M187.8 239.4v2.2M195.3 239.4v2.2M208.15 239.4v2.2M215.65 239.4v2.2M223.15 239.4v2.2"/>
<text x="246" y="148.6" font-size="9.2" class="b">E.</text>
<text x="351" y="148.6" font-size="9.6" class="b" textLength="60.4" lengthAdjust="spacingAndGlyphs">4-OOH IFA&#160;&#160;5d</text>
<path class="ax" d="M285.5 144.7V190.4M285.5 193.4V240H456.6"/>
<path class="ax" d="M284.1 190.4H285.8M284.3 193.4H286.7"/>
<text x="283.5" y="147.67" font-size="6.45" class="b e">2000</text>
<text x="283.5" y="159.17" font-size="6.45" class="b e">1500</text>
<text x="283.5" y="170.67" font-size="6.45" class="b e">1000</text>
<text x="283.5" y="182.17" font-size="6.45" class="b e">500</text>
<text x="282.9" y="242.57" font-size="6.9" class="b e">0</text>
<text x="282.9" y="233.47" font-size="6.9" class="b e">1</text>
<text x="282.9" y="224.37" font-size="6.9" class="b e">2</text>
<text x="282.9" y="215.27" font-size="6.9" class="b e">3</text>
<text x="282.9" y="206.17" font-size="6.9" class="b e">4</text>
<text x="282.9" y="197.07" font-size="6.9" class="b e">5</text>
<path class="ax" d="M283.2 145H285.5M283.2 156.5H285.5M283.2 168H285.5M283.2 179.5H285.5M283.2 240H285.5M283.2 230.9H285.5M283.2 221.8H285.5M283.2 212.7H285.5M283.2 203.6H285.5M283.2 194.5H285.5"/>
<text transform="translate(292.5 246.6) rotate(-45)" font-size="5.1" class="b e">Control</text>
<path class="bar ctl" d="M288.05 240V230.9H292.95V240"/>
<rect x="287.8" y="230.1" width="5.4" height="1.6" rx="0.6"/>
<text transform="translate(300.25 246.6) rotate(-45)" font-size="5.6" class="b e">IC<tspan font-size="3.47" dy="1.1">20</tspan></text>
<path class="bar" d="M295.8 240V231.35H300.7V240"/>
<path class="err" d="M298.25 227.72V234.99M296.75 227.72h3M296.75 234.99h3"/>
<circle cx="297.25" cy="221.34" r="1"/>
<circle cx="299.05" cy="223.16" r="1"/>
<circle cx="299.45" cy="230.9" r="1"/>
<circle cx="297.65" cy="233.63" r="1"/>
<circle cx="298.85" cy="236.36" r="1"/>
<circle cx="296.75" cy="237.27" r="1"/>
<text transform="translate(308 246.6) rotate(-45)" font-size="5.6" class="b e">IC<tspan font-size="3.47" dy="1.1">50</tspan></text>
<path class="bar" d="M303.55 240V238.63H308.45V240"/>
<circle cx="306" cy="237.27" r="1"/>
<circle cx="304.8" cy="238.18" r="1"/>
<circle cx="307.2" cy="239.09" r="1"/>
<circle cx="305.4" cy="239.54" r="1"/>
<text x="306" y="230.1" font-size="5.6" class="b m n">*</text>
<text transform="translate(321.45 246.6) rotate(-45)" font-size="5.1" class="b e">Control</text>
<path class="bar ctl" d="M317 240V230.9H321.9V240"/>
<rect x="316.75" y="230.1" width="5.4" height="1.6" rx="0.6"/>
<text transform="translate(329.2 246.6) rotate(-45)" font-size="5.6" class="b e">IC<tspan font-size="3.47" dy="1.1">20</tspan></text>
<path class="bar" d="M324.75 240V235.91H329.65V240"/>
<path class="err" d="M327.2 232.72V239.09M325.7 232.72h3M325.7 239.09h3"/>
<rect x="326.2" y="228.08" width="2" height="2"/>
<rect x="325" y="231.72" width="2" height="2"/>
<rect x="327.4" y="235.36" width="2" height="2"/>
<rect x="325.6" y="238.09" width="2" height="2"/>
<rect x="326.8" y="238.54" width="2" height="2"/>
<text x="327.2" y="219.3" font-size="4.5" class="b m">ns</text>
<text transform="translate(336.95 246.6) rotate(-45)" font-size="5.6" class="b e">IC<tspan font-size="3.47" dy="1.1">50</tspan></text>
<path class="bar" d="M332.5 240V230.9H337.4V240"/>
<path class="err" d="M334.95 229.08V232.72M333.45 229.08h3M333.45 232.72h3"/>
<rect x="333.95" y="223.53" width="2" height="2"/>
<rect x="332.75" y="226.26" width="2" height="2"/>
<rect x="335.15" y="228.99" width="2" height="2"/>
<rect x="333.35" y="229.9" width="2" height="2"/>
<rect x="334.55" y="230.81" width="2" height="2"/>
<rect x="332.45" y="231.72" width="2" height="2"/>
<text transform="translate(350.4 246.6) rotate(-45)" font-size="5.1" class="b e">Control</text>
<path class="bar ctl" d="M345.95 240V230.9H350.85V240"/>
<rect x="345.7" y="230.1" width="5.4" height="1.6" rx="0.6"/>
<text transform="translate(358.15 246.6) rotate(-45)" font-size="5.6" class="b e">IC<tspan font-size="3.47" dy="1.1">20</tspan></text>
<path class="bar" d="M353.7 240V231.81H358.6V240"/>
<path class="err" d="M356.15 229.99V233.63M354.65 229.99h3M354.65 233.63h3"/>
<path d="M356.15 226.16L357.25 228.06L355.05 228.06Z"/>
<path d="M354.95 227.98L356.05 229.88L353.85 229.88Z"/>
<path d="M357.35 229.8L358.45 231.7L356.25 231.7Z"/>
<path d="M355.55 231.62L356.65 233.52L354.45 233.52Z"/>
<path d="M356.75 233.44L357.85 235.34L355.65 235.34Z"/>
<path d="M354.65 234.35L355.75 236.25L353.55 236.25Z"/>
<text x="356.15" y="219.3" font-size="4.5" class="b m">ns</text>
<text transform="translate(365.9 246.6) rotate(-45)" font-size="5.6" class="b e">IC<tspan font-size="3.47" dy="1.1">50</tspan></text>
<path class="bar" d="M361.45 240V230.44H366.35V240"/>
<path class="err" d="M363.9 227.72V233.17M362.4 227.72h3M362.4 233.17h3"/>
<path d="M363.9 224.34L365 226.24L362.8 226.24Z"/>
<path d="M362.7 225.25L363.8 227.15L361.6 227.15Z"/>
<path d="M365.1 227.98L366.2 229.88L364 229.88Z"/>
<path d="M363.3 230.71L364.4 232.61L362.2 232.61Z"/>
<path d="M364.5 232.53L365.6 234.43L363.4 234.43Z"/>
<path d="M362.4 234.35L363.5 236.25L361.3 236.25Z"/>
<text transform="translate(379.35 246.6) rotate(-45)" font-size="5.1" class="b e">Control</text>
<path class="bar ctl" d="M374.9 240V230.9H379.8V240"/>
<rect x="374.65" y="230.1" width="5.4" height="1.6" rx="0.6"/>
<text transform="translate(387.1 246.6) rotate(-45)" font-size="5.6" class="b e">IC<tspan font-size="3.47" dy="1.1">20</tspan></text>
<path class="bar" d="M382.65 240V236.81H387.55V240"/>
<path class="err" d="M385.1 234.54V239.09M383.6 234.54h3M383.6 239.09h3"/>
<path d="M385.1 232.91L386.2 231.01L384 231.01Z"/>
<path d="M383.9 234.73L385 232.83L382.8 232.83Z"/>
<path d="M386.3 238.37L387.4 236.47L385.2 236.47Z"/>
<path d="M384.5 239.28L385.6 237.38L383.4 237.38Z"/>
<path d="M385.7 240.19L386.8 238.29L384.6 238.29Z"/>
<path d="M383.6 240.64L384.7 238.74L382.5 238.74Z"/>
<text transform="translate(394.85 246.6) rotate(-45)" font-size="5.6" class="b e">IC<tspan font-size="3.47" dy="1.1">50</tspan></text>
<path class="bar" d="M390.4 240V232.26H395.3V240"/>
<path class="err" d="M392.85 228.62V235.9M391.35 228.62h3M391.35 235.9h3"/>
<path d="M392.85 220.62L393.95 218.72L391.75 218.72Z"/>
<path d="M391.65 227.45L392.75 225.55L390.55 225.55Z"/>
<path d="M394.05 232L395.15 230.1L392.95 230.1Z"/>
<path d="M392.25 234.73L393.35 232.83L391.15 232.83Z"/>
<path d="M393.45 237.46L394.55 235.56L392.35 235.56Z"/>
<path d="M391.35 238.37L392.45 236.47L390.25 236.47Z"/>
<text x="392.85" y="212.3" font-size="4.5" class="b m">ns</text>
<text transform="translate(408.3 246.6) rotate(-45)" font-size="5.1" class="b e">Control</text>
<path class="bar ctl" d="M403.85 240V230.9H408.75V240"/>
<rect x="403.6" y="230.1" width="5.4" height="1.6" rx="0.6"/>
<text transform="translate(416.05 246.6) rotate(-45)" font-size="5.6" class="b e">IC<tspan font-size="3.47" dy="1.1">20</tspan></text>
<path class="bar" d="M411.6 240V194.5M416.5 240V194.5"/>
<rect x="411.7" y="189.2" width="4.7" height="1.6" rx="0.6"/>
<text x="414.05" y="184.2" font-size="5.6" class="b m n">***</text>
<text transform="translate(423.8 246.6) rotate(-45)" font-size="5.6" class="b e">IC<tspan font-size="3.47" dy="1.1">50</tspan></text>
<path class="bar" d="M419.35 240V194.5M424.25 240V194.5"/>
<rect x="419.45" y="189.2" width="4.7" height="1.6" rx="0.6"/>
<text x="421.8" y="184.2" font-size="5.6" class="b m n">***</text>
<text transform="translate(437.25 246.6) rotate(-45)" font-size="5.1" class="b e">Control</text>
<path class="bar ctl" d="M432.8 240V230.9H437.7V240"/>
<rect x="432.55" y="230.1" width="5.4" height="1.6" rx="0.6"/>
<text transform="translate(445 246.6) rotate(-45)" font-size="5.6" class="b e">IC<tspan font-size="3.47" dy="1.1">20</tspan></text>
<path class="bar" d="M440.55 240V194.5M445.45 240V194.5"/>
<rect x="440.65" y="189" width="4.7" height="1.6" rx="0.6"/>
<text x="443" y="184.2" font-size="5.6" class="b m n">**</text>
<text transform="translate(452.75 246.6) rotate(-45)" font-size="5.6" class="b e">IC<tspan font-size="3.47" dy="1.1">50</tspan></text>
<path class="bar" d="M448.3 240V194.5M453.2 240V194.5"/>
<path class="bar" d="M448.3 190.4V187.5H453.2V190.4"/>
<circle cx="449.25" cy="189.5" r="0.95" fill="#fff" stroke="#000" stroke-width="0.6"/>
<circle cx="452.25" cy="189.5" r="0.95" fill="#fff" stroke="#000" stroke-width="0.6"/>
<circle cx="449.75" cy="187.5" r="0.95" fill="#fff" stroke="#000" stroke-width="0.6"/>
<circle cx="451.75" cy="187" r="0.95" fill="#fff" stroke="#000" stroke-width="0.6"/>
<circle cx="450.75" cy="185.5" r="0.95" fill="#fff" stroke="#000" stroke-width="0.6"/>
<circle cx="450.75" cy="188.5" r="0.95" fill="#fff" stroke="#000" stroke-width="0.6"/>
<text x="450.75" y="181.6" font-size="5.6" class="b m n">**</text>
<path class="ax" d="M290.5 240v2.2M298.25 240v2.2M306 240v2.2M319.45 240v2.2M327.2 240v2.2M334.95 240v2.2M348.4 240v2.2M356.15 240v2.2M363.9 240v2.2M377.35 240v2.2M385.1 240v2.2M392.85 240v2.2M406.3 240v2.2M414.05 240v2.2M421.8 240v2.2M435.25 240v2.2M443 240v2.2M450.75 240v2.2"/>
<text x="479.4" y="147.8" font-size="9.2" class="b">F.</text>
<text x="594.4" y="150.6" font-size="9.6" class="b" textLength="33.2" lengthAdjust="spacingAndGlyphs">H<tspan font-size="6.8" dy="2.4">2</tspan><tspan dy="-2.4">O</tspan><tspan font-size="6.8" dy="2.4">2</tspan><tspan dy="-2.4"> 5d</tspan></text>
<path class="ax" d="M523.6 148.7V201M523.6 204.3V240.3H685"/>
<path class="ax" d="M522.2 201H523.9M522.4 204.3H524.8"/>
<text x="521.6" y="151.52" font-size="6.05" class="b e">2000</text>
<text x="521.6" y="164.92" font-size="6.05" class="b e">1500</text>
<text x="521.6" y="178.22" font-size="6.05" class="b e">1000</text>
<text x="521.6" y="191.52" font-size="6.05" class="b e">500</text>
<text x="521" y="242.72" font-size="6.5" class="b e">0</text>
<text x="521" y="235.77" font-size="6.5" class="b e">1</text>
<text x="521" y="228.82" font-size="6.5" class="b e">2</text>
<text x="521" y="221.87" font-size="6.5" class="b e">3</text>
<text x="521" y="214.92" font-size="6.5" class="b e">4</text>
<text x="521" y="207.97" font-size="6.5" class="b e">5</text>
<path class="ax" d="M521.3 149H523.6M521.3 162.4H523.6M521.3 175.7H523.6M521.3 189H523.6M521.3 240.3H523.6M521.3 233.35H523.6M521.3 226.4H523.6M521.3 219.45H523.6M521.3 212.5H523.6M521.3 205.55H523.6"/>
<circle cx="530" cy="150.4" r="1.05"/>
<text x="535.6" y="152.22" font-size="5.05" class="b">BACH2</text>
<rect x="528.95" y="155.55" width="2.1" height="2.1"/>
<text x="535.6" y="158.42" font-size="5.05" class="b">XBP1</text>
<path d="M530 161.84L531.15 163.84L528.85 163.84Z"/>
<text x="535.6" y="164.82" font-size="5.05" class="b">IRF4</text>
<path d="M530 170.16L531.15 168.16L528.85 168.16Z"/>
<text x="535.6" y="170.82" font-size="5.05" class="b">PAX5</text>
<path d="M530 174.74L531.26 176L530 177.26L528.74 176Z"/>
<text x="535.6" y="177.82" font-size="5.05" class="b">PRDM1</text>
<circle cx="530" cy="182.6" r="1" fill="#fff" stroke="#000" stroke-width="0.6"/>
<text x="535.6" y="184.42" font-size="5.05" class="b">AICDA</text>
<text transform="translate(530.5 246.9) rotate(-45)" font-size="5.1" class="b e">Control</text>
<path class="bar ctl" d="M526 240.3V233.35H531V240.3"/>
<rect x="525.75" y="232.55" width="5.5" height="1.6" rx="0.6"/>
<text transform="translate(537.95 246.9) rotate(-45)" font-size="5.6" class="b e">IC<tspan font-size="3.47" dy="1.1">20</tspan></text>
<path class="bar" d="M533.45 240.3V234.39H538.45V240.3"/>
<path class="err" d="M535.95 231.27V237.52M534.45 231.27h3M534.45 237.52h3"/>
<circle cx="534.95" cy="225.71" r="1"/>
<circle cx="536.75" cy="227.09" r="1"/>
<circle cx="537.15" cy="236.83" r="1"/>
<circle cx="535.35" cy="238.22" r="1"/>
<circle cx="536.55" cy="239.26" r="1"/>
<circle cx="534.45" cy="239.61" r="1"/>
<text x="535.95" y="217.3" font-size="4.5" class="b m">ns</text>
<text transform="translate(545.4 246.9) rotate(-45)" font-size="5.6" class="b e">IC<tspan font-size="3.47" dy="1.1">50</tspan></text>
<path class="bar" d="M540.9 240.3V237.87H545.9V240.3"/>
<path class="err" d="M543.4 236.48V239.26M541.9 236.48h3M541.9 239.26h3"/>
<circle cx="543.4" cy="235.44" r="1"/>
<circle cx="542.2" cy="236.13" r="1"/>
<circle cx="544.6" cy="237.52" r="1"/>
<circle cx="542.8" cy="238.22" r="1"/>
<circle cx="544" cy="239.61" r="1"/>
<circle cx="541.9" cy="239.95" r="1"/>
<text transform="translate(557.3 246.9) rotate(-45)" font-size="5.1" class="b e">Control</text>
<path class="bar ctl" d="M552.8 240.3V233.35H557.8V240.3"/>
<rect x="552.55" y="232.55" width="5.5" height="1.6" rx="0.6"/>
<text transform="translate(564.75 246.9) rotate(-45)" font-size="5.6" class="b e">IC<tspan font-size="3.47" dy="1.1">20</tspan></text>
<path class="bar" d="M560.25 240.3V230.57H565.25V240.3"/>
<path class="err" d="M562.75 228.49V232.66M561.25 228.49h3M561.25 232.66h3"/>
<rect x="561.75" y="221.93" width="2" height="2"/>
<rect x="560.55" y="226.09" width="2" height="2"/>
<rect x="562.95" y="228.88" width="2" height="2"/>
<rect x="561.15" y="230.27" width="2" height="2"/>
<rect x="562.35" y="232.35" width="2" height="2"/>
<rect x="560.25" y="235.83" width="2" height="2"/>
<text x="562.75" y="217.3" font-size="4.5" class="b m">ns</text>
<text transform="translate(572.2 246.9) rotate(-45)" font-size="5.6" class="b e">IC<tspan font-size="3.47" dy="1.1">50</tspan></text>
<path class="bar" d="M567.7 240.3V231.61H572.7V240.3"/>
<path class="err" d="M570.2 230.22V233M568.7 230.22h3M568.7 233h3"/>
<rect x="569.2" y="226.09" width="2" height="2"/>
<rect x="568" y="228.88" width="2" height="2"/>
<rect x="570.4" y="230.27" width="2" height="2"/>
<rect x="568.6" y="230.96" width="2" height="2"/>
<rect x="569.8" y="232.35" width="2" height="2"/>
<rect x="567.7" y="233.05" width="2" height="2"/>
<text transform="translate(584.1 246.9) rotate(-45)" font-size="5.1" class="b e">Control</text>
<path class="bar ctl" d="M579.6 240.3V233.35H584.6V240.3"/>
<rect x="579.35" y="232.55" width="5.5" height="1.6" rx="0.6"/>
<text transform="translate(591.55 246.9) rotate(-45)" font-size="5.6" class="b e">IC<tspan font-size="3.47" dy="1.1">20</tspan></text>
<path class="bar" d="M587.05 240.3V228.14H592.05V240.3"/>
<path class="err" d="M589.55 226.05V230.22M588.05 226.05h3M588.05 230.22h3"/>
<path d="M589.55 220.44L590.65 222.34L588.45 222.34Z"/>
<path d="M588.35 223.91L589.45 225.81L587.25 225.81Z"/>
<path d="M590.75 226L591.85 227.9L589.65 227.9Z"/>
<path d="M588.95 228.08L590.05 229.98L587.85 229.98Z"/>
<path d="M590.15 230.17L591.25 232.07L589.05 232.07Z"/>
<path d="M588.05 232.25L589.15 234.15L586.95 234.15Z"/>
<text x="589.55" y="217.3" font-size="4.5" class="b m">ns</text>
<text transform="translate(599 246.9) rotate(-45)" font-size="5.6" class="b e">IC<tspan font-size="3.47" dy="1.1">50</tspan></text>
<path class="bar" d="M594.5 240.3V205.55H599.5V240.3"/>
<path class="err" d="M597 204.72V206.38M595.5 204.72h3M595.5 206.38h3"/>
<path d="M597 200.9L598.1 202.8L595.9 202.8Z"/>
<path d="M596 205.15L597.1 207.05L594.9 207.05Z"/>
<path d="M598 205.84L599.1 207.74L596.9 207.74Z"/>
<path d="M596.2 207.93L597.3 209.83L595.1 209.83Z"/>
<path d="M597.8 208.62L598.9 210.52L596.7 210.52Z"/>
<text x="597" y="196.6" font-size="5.6" class="b m n">***</text>
<text transform="translate(610.9 246.9) rotate(-45)" font-size="5.1" class="b e">Control</text>
<path class="bar ctl" d="M606.4 240.3V233.35H611.4V240.3"/>
<rect x="606.15" y="232.55" width="5.5" height="1.6" rx="0.6"/>
<text transform="translate(618.35 246.9) rotate(-45)" font-size="5.6" class="b e">IC<tspan font-size="3.47" dy="1.1">20</tspan></text>
<path class="bar" d="M613.85 240.3V238.91H618.85V240.3"/>
<path class="err" d="M616.35 238.22V239.61M614.85 238.22h3M614.85 239.61h3"/>
<path d="M616.35 230.28L617.45 228.38L615.25 228.38Z"/>
<path d="M615.15 238.62L616.25 236.72L614.05 236.72Z"/>
<path d="M617.55 239.31L618.65 237.41L616.45 237.41Z"/>
<path d="M615.75 240.01L616.85 238.11L614.65 238.11Z"/>
<path d="M616.95 240.71L618.05 238.81L615.85 238.81Z"/>
<text transform="translate(625.8 246.9) rotate(-45)" font-size="5.6" class="b e">IC<tspan font-size="3.47" dy="1.1">50</tspan></text>
<path class="bar" d="M621.3 240.3V230.22H626.3V240.3"/>
<path class="err" d="M623.8 226.75V233.7M622.3 226.75h3M622.3 233.7h3"/>
<path d="M623.8 215.69L624.9 213.78L622.7 213.78Z"/>
<path d="M622.6 227.5L623.7 225.6L621.5 225.6Z"/>
<path d="M625 232.37L626.1 230.47L623.9 230.47Z"/>
<path d="M623.2 234.45L624.3 232.55L622.1 232.55Z"/>
<path d="M624.4 236.53L625.5 234.63L623.3 234.63Z"/>
<text x="623.8" y="208.3" font-size="4.5" class="b m">ns</text>
<text transform="translate(637.7 246.9) rotate(-45)" font-size="5.1" class="b e">Control</text>
<path class="bar ctl" d="M633.2 240.3V233.35H638.2V240.3"/>
<rect x="632.95" y="232.55" width="5.5" height="1.6" rx="0.6"/>
<text transform="translate(645.15 246.9) rotate(-45)" font-size="5.6" class="b e">IC<tspan font-size="3.47" dy="1.1">20</tspan></text>
<path class="bar" d="M640.65 240.3V205.55M645.65 240.3V205.55"/>
<rect x="640.75" y="200.6" width="4.8" height="1.6" rx="0.6"/>
<text x="643.15" y="197.6" font-size="5.6" class="b m n">***</text>
<text transform="translate(652.6 246.9) rotate(-45)" font-size="5.6" class="b e">IC<tspan font-size="3.47" dy="1.1">50</tspan></text>
<path class="bar" d="M648.1 240.3V229.88H653.1V240.3"/>
<path class="err" d="M650.6 228.14V231.61M649.1 228.14h3M649.1 231.61h3"/>
<path d="M650.6 219.29L651.8 220.49L650.6 221.69L649.4 220.49Z"/>
<path d="M649.4 227.29L650.6 228.49L649.4 229.69L648.2 228.49Z"/>
<path d="M651.8 228.68L653 229.88L651.8 231.07L650.6 229.88Z"/>
<path d="M650 230.07L651.2 231.27L650 232.47L648.8 231.27Z"/>
<path d="M651.2 232.15L652.4 233.35L651.2 234.55L650 233.35Z"/>
<path d="M649.1 232.85L650.3 234.05L649.1 235.25L647.9 234.05Z"/>
<text transform="translate(664.5 246.9) rotate(-45)" font-size="5.1" class="b e">Control</text>
<path class="bar ctl" d="M660 240.3V233.35H665V240.3"/>
<rect x="659.75" y="232.55" width="5.5" height="1.6" rx="0.6"/>
<text transform="translate(671.95 246.9) rotate(-45)" font-size="5.6" class="b e">IC<tspan font-size="3.47" dy="1.1">20</tspan></text>
<path class="bar" d="M667.45 240.3V205.55M672.45 240.3V205.55"/>
<path class="bar" d="M667.45 201V198.5H672.45V201"/>
<circle cx="668.35" cy="200.5" r="0.95" fill="#fff" stroke="#000" stroke-width="0.6"/>
<circle cx="671.55" cy="200.5" r="0.95" fill="#fff" stroke="#000" stroke-width="0.6"/>
<circle cx="669.15" cy="199" r="0.95" fill="#fff" stroke="#000" stroke-width="0.6"/>
<circle cx="670.75" cy="199" r="0.95" fill="#fff" stroke="#000" stroke-width="0.6"/>
<circle cx="669.95" cy="197.5" r="0.95" fill="#fff" stroke="#000" stroke-width="0.6"/>
<text x="669.95" y="192.2" font-size="5.6" class="b m n">**</text>
<text transform="translate(679.4 246.9) rotate(-45)" font-size="5.6" class="b e">IC<tspan font-size="3.47" dy="1.1">50</tspan></text>
<path class="bar" d="M674.9 240.3V205.55M679.9 240.3V205.55"/>
<path class="bar" d="M674.9 201V192H679.9V201"/>
<circle cx="675.9" cy="193" r="0.95" fill="#fff" stroke="#000" stroke-width="0.6"/>
<circle cx="678.9" cy="193" r="0.95" fill="#fff" stroke="#000" stroke-width="0.6"/>
<circle cx="676.6" cy="191" r="0.95" fill="#fff" stroke="#000" stroke-width="0.6"/>
<circle cx="678.2" cy="191" r="0.95" fill="#fff" stroke="#000" stroke-width="0.6"/>
<circle cx="677.4" cy="189.5" r="0.95" fill="#fff" stroke="#000" stroke-width="0.6"/>
<text x="677.4" y="181.2" font-size="5.6" class="b m n">***</text>
<path class="ax" d="M528.5 240.3v2.2M535.95 240.3v2.2M543.4 240.3v2.2M555.3 240.3v2.2M562.75 240.3v2.2M570.2 240.3v2.2M582.1 240.3v2.2M589.55 240.3v2.2M597 240.3v2.2M608.9 240.3v2.2M616.35 240.3v2.2M623.8 240.3v2.2M635.7 240.3v2.2M643.15 240.3v2.2M650.6 240.3v2.2M662.5 240.3v2.2M669.95 240.3v2.2M677.4 240.3v2.2"/>
<text x="1.6" y="280.2" font-size="9.2" class="b">G.</text>
<text x="138" y="275.4" font-size="9.6" class="b" textLength="29.4" lengthAdjust="spacingAndGlyphs">γ-IR 5d</text>
<text transform="translate(26.2 393) rotate(-90)" font-size="6.8" class="b" textLength="124" lengthAdjust="spacingAndGlyphs">mRNA relative expression (Fold Change)</text>
<path class="ax" d="M63 284.1V337M63 340V374.3H226"/>
<path class="ax" d="M61.6 337H63.3M61.8 340H64.2"/>
<text x="61" y="287.14" font-size="6.65" class="b e">2000</text>
<text x="61" y="300.54" font-size="6.65" class="b e">1500</text>
<text x="61" y="313.84" font-size="6.65" class="b e">1000</text>
<text x="61" y="327.14" font-size="6.65" class="b e">500</text>
<text x="60.4" y="376.94" font-size="7.1" class="b e">0</text>
<text x="60.4" y="370.34" font-size="7.1" class="b e">1</text>
<text x="60.4" y="363.74" font-size="7.1" class="b e">2</text>
<text x="60.4" y="357.14" font-size="7.1" class="b e">3</text>
<text x="60.4" y="350.54" font-size="7.1" class="b e">4</text>
<text x="60.4" y="343.94" font-size="7.1" class="b e">5</text>
<path class="ax" d="M60.7 284.4H63M60.7 297.8H63M60.7 311.1H63M60.7 324.4H63M60.7 374.3H63M60.7 367.7H63M60.7 361.1H63M60.7 354.5H63M60.7 347.9H63M60.7 341.3H63"/>
<circle cx="69" cy="286.4" r="1.05"/>
<text x="74" y="288.31" font-size="5.3" class="b">BCL6</text>
<rect x="67.95" y="291.55" width="2.1" height="2.1"/>
<text x="74" y="294.51" font-size="5.3" class="b">TNFSF13B</text>
<path d="M69 297.25L70.16 299.24L67.84 299.24Z"/>
<text x="74" y="300.31" font-size="5.3" class="b">IGHM</text>
<path d="M69 305.15L70.16 303.16L67.84 303.16Z"/>
<text x="74" y="305.91" font-size="5.3" class="b">IGHG1</text>
<path d="M69 308.34L70.26 309.6L69 310.86L67.74 309.6Z"/>
<text x="74" y="311.51" font-size="5.3" class="b">IGHA1</text>
<text transform="translate(71 380.9) rotate(-45)" font-size="5.1" class="b e">Control</text>
<path class="bar ctl" stroke-width="0.75" d="M66.2 374.3V367.7H71.8V374.3"/>
<rect x="65.95" y="366.9" width="6.1" height="1.6" rx="0.6"/>
<text transform="translate(80.1 380.9) rotate(-45)" font-size="5.6" class="b e">IC<tspan font-size="3.47" dy="1.1">20</tspan></text>
<path class="bar" stroke-width="0.75" d="M75.3 374.3V341.3M80.9 374.3V341.3"/>
<rect x="75.4" y="335.8" width="5.4" height="1.6" rx="0.6"/>
<text x="78.1" y="331.6" font-size="5.6" class="b m n">**</text>
<text transform="translate(89.2 380.9) rotate(-45)" font-size="5.6" class="b e">IC<tspan font-size="3.47" dy="1.1">50</tspan></text>
<path class="bar" stroke-width="0.75" d="M84.4 374.3V341.3M90 374.3V341.3"/>
<rect x="84.5" y="336.2" width="5.4" height="1.6" rx="0.6"/>
<text x="87.2" y="331.6" font-size="5.6" class="b m n">***</text>
<text transform="translate(104.15 380.9) rotate(-45)" font-size="5.1" class="b e">Control</text>
<path class="bar ctl" stroke-width="0.75" d="M99.35 374.3V367.7H104.95V374.3"/>
<rect x="99.1" y="366.9" width="6.1" height="1.6" rx="0.6"/>
<text transform="translate(113.25 380.9) rotate(-45)" font-size="5.6" class="b e">IC<tspan font-size="3.47" dy="1.1">20</tspan></text>
<path class="bar" stroke-width="0.75" d="M108.45 374.3V341.3M114.05 374.3V341.3"/>
<rect x="108.55" y="336.6" width="5.4" height="1.6" rx="0.6"/>
<rect x="109.25" y="342.61" width="2" height="2"/>
<rect x="109.25" y="348.88" width="2" height="2"/>
<text x="111.25" y="331.6" font-size="5.6" class="b m n">*</text>
<text transform="translate(122.35 380.9) rotate(-45)" font-size="5.6" class="b e">IC<tspan font-size="3.47" dy="1.1">50</tspan></text>
<path class="bar" stroke-width="0.75" d="M117.55 374.3V341.96H123.15V374.3"/>
<path class="err" d="M120.35 340.64V343.28M118.85 340.64h3M118.85 343.28h3"/>
<rect x="117.65" y="336.6" width="5.4" height="1.6" rx="0.6"/>
<rect x="118.85" y="343.6" width="2" height="2"/>
<rect x="119.65" y="346.9" width="2" height="2"/>
<rect x="118.85" y="350.2" width="2" height="2"/>
<text x="120.35" y="331.6" font-size="5.6" class="b m n">***</text>
<text transform="translate(137.3 380.9) rotate(-45)" font-size="5.1" class="b e">Control</text>
<path class="bar ctl" stroke-width="0.75" d="M132.5 374.3V367.7H138.1V374.3"/>
<rect x="132.25" y="366.9" width="6.1" height="1.6" rx="0.6"/>
<text transform="translate(146.4 380.9) rotate(-45)" font-size="5.6" class="b e">IC<tspan font-size="3.47" dy="1.1">20</tspan></text>
<path class="bar" stroke-width="0.75" d="M141.6 374.3V341.3M147.2 374.3V341.3"/>
<path d="M142.4 335.9L143.5 337.8L141.3 337.8Z"/>
<path d="M143.7 334.7L144.8 336.6L142.6 336.6Z"/>
<path d="M145.1 334.4L146.2 336.3L144 336.3Z"/>
<path d="M146.4 335.4L147.5 337.3L145.3 337.3Z"/>
<text x="144.4" y="331.2" font-size="5.6" class="b m n">**</text>
<text transform="translate(155.5 380.9) rotate(-45)" font-size="5.6" class="b e">IC<tspan font-size="3.47" dy="1.1">50</tspan></text>
<path class="bar" stroke-width="0.75" d="M150.7 374.3V341.3M156.3 374.3V341.3"/>
<rect x="151" y="336.6" width="5" height="1.6" rx="0.6"/>
<text x="153.5" y="331.2" font-size="5.6" class="b m n">*</text>
<text transform="translate(170.45 380.9) rotate(-45)" font-size="5.1" class="b e">Control</text>
<path class="bar ctl" stroke-width="0.75" d="M165.65 374.3V369.02H171.25V374.3"/>
<path class="err" d="M168.45 367.37V370.67M166.95 367.37h3M166.95 370.67h3"/>
<rect x="165.4" y="366.9" width="6.1" height="1.6" rx="0.6"/>
<path d="M168.45 374.74L169.55 372.84L167.35 372.84Z"/>
<text transform="translate(179.55 380.9) rotate(-45)" font-size="5.6" class="b e">IC<tspan font-size="3.47" dy="1.1">20</tspan></text>
<path class="bar" stroke-width="0.75" d="M174.75 374.3V341.3M180.35 374.3V341.3"/>
<rect x="175.05" y="336.2" width="5" height="1.6" rx="0.6"/>
<text x="177.55" y="331.2" font-size="5.6" class="b m n">**</text>
<text transform="translate(188.65 380.9) rotate(-45)" font-size="5.6" class="b e">IC<tspan font-size="3.47" dy="1.1">50</tspan></text>
<path class="bar" stroke-width="0.75" d="M183.85 374.3V357.8H189.45V374.3"/>
<path class="err" d="M186.65 354.83V360.77M185.15 354.83h3M185.15 360.77h3"/>
<path d="M186.65 350.98L187.75 349.08L185.55 349.08Z"/>
<path d="M185.45 356.26L186.55 354.36L184.35 354.36Z"/>
<path d="M187.85 359.56L188.95 357.66L186.75 357.66Z"/>
<path d="M186.05 363.52L187.15 361.62L184.95 361.62Z"/>
<path d="M187.25 366.82L188.35 364.92L186.15 364.92Z"/>
<text transform="translate(203.6 380.9) rotate(-45)" font-size="5.1" class="b e">Control</text>
<path class="bar ctl" stroke-width="0.75" d="M198.8 374.3V367.7H204.4V374.3"/>
<rect x="198.55" y="366.9" width="6.1" height="1.6" rx="0.6"/>
<text transform="translate(212.7 380.9) rotate(-45)" font-size="5.6" class="b e">IC<tspan font-size="3.47" dy="1.1">20</tspan></text>
<path class="bar" stroke-width="0.75" d="M207.9 374.3V341.3M213.5 374.3V341.3"/>
<rect x="208.2" y="336.2" width="5" height="1.6" rx="0.6"/>
<text x="210.7" y="332.6" font-size="5.6" class="b m n">**</text>
<text transform="translate(221.8 380.9) rotate(-45)" font-size="5.6" class="b e">IC<tspan font-size="3.47" dy="1.1">50</tspan></text>
<path class="bar" stroke-width="0.75" d="M217 374.3V361.76H222.6V374.3"/>
<path class="err" d="M219.8 359.78V363.74M218.3 359.78h3M218.3 363.74h3"/>
<path d="M219.8 348.02L221 349.22L219.8 350.42L218.6 349.22Z"/>
<path d="M218.6 355.28L219.8 356.48L218.6 357.68L217.4 356.48Z"/>
<path d="M221 358.58L222.2 359.78L221 360.98L219.8 359.78Z"/>
<path d="M219.2 361.88L220.4 363.08L219.2 364.28L218 363.08Z"/>
<path d="M220.4 363.2L221.6 364.4L220.4 365.6L219.2 364.4Z"/>
<path d="M218.3 364.52L219.5 365.72L218.3 366.92L217.1 365.72Z"/>
<path class="ax" d="M69 374.3v2.2M78.1 374.3v2.2M87.2 374.3v2.2M102.15 374.3v2.2M111.25 374.3v2.2M120.35 374.3v2.2M135.3 374.3v2.2M144.4 374.3v2.2M153.5 374.3v2.2M168.45 374.3v2.2M177.55 374.3v2.2M186.65 374.3v2.2M201.6 374.3v2.2M210.7 374.3v2.2M219.8 374.3v2.2"/>
<text x="246.4" y="280.8" font-size="9.2" class="b">H.</text>
<text x="351" y="275.6" font-size="9.6" class="b" textLength="60.4" lengthAdjust="spacingAndGlyphs">4-OOH IFA&#160;&#160;5d</text>
<path class="ax" d="M285.7 282.1V337M285.7 340V374.3H458.4"/>
<path class="ax" d="M284.3 337H286M284.5 340H286.9"/>
<text x="283.7" y="285.07" font-size="6.45" class="b e">2000</text>
<text x="283.7" y="298.97" font-size="6.45" class="b e">1500</text>
<text x="283.7" y="312.77" font-size="6.45" class="b e">1000</text>
<text x="283.7" y="326.67" font-size="6.45" class="b e">500</text>
<text x="283.1" y="376.87" font-size="6.9" class="b e">0</text>
<text x="283.1" y="370.22" font-size="6.9" class="b e">1</text>
<text x="283.1" y="363.57" font-size="6.9" class="b e">2</text>
<text x="283.1" y="356.92" font-size="6.9" class="b e">3</text>
<text x="283.1" y="350.27" font-size="6.9" class="b e">4</text>
<text x="283.1" y="343.62" font-size="6.9" class="b e">5</text>
<path class="ax" d="M283.4 282.4H285.7M283.4 296.3H285.7M283.4 310.1H285.7M283.4 324H285.7M283.4 374.3H285.7M283.4 367.65H285.7M283.4 361H285.7M283.4 354.35H285.7M283.4 347.7H285.7M283.4 341.05H285.7"/>
<text transform="translate(294.1 380.9) rotate(-45)" font-size="5.1" class="b e">Control</text>
<path class="bar ctl" stroke-width="0.75" d="M289.15 374.3V367.65H295.05V374.3"/>
<rect x="288.9" y="366.85" width="6.4" height="1.6" rx="0.6"/>
<text transform="translate(303.65 380.9) rotate(-45)" font-size="5.6" class="b e">IC<tspan font-size="3.47" dy="1.1">20</tspan></text>
<path class="bar" stroke-width="0.75" d="M298.7 374.3V361.67H304.6V374.3"/>
<path class="err" d="M301.65 360.67V362.66M300.15 360.67h3M300.15 362.66h3"/>
<circle cx="303.15" cy="358.67" r="1"/>
<circle cx="300.45" cy="360.34" r="1"/>
<circle cx="302.85" cy="361" r="1"/>
<circle cx="301.05" cy="361.67" r="1"/>
<circle cx="302.25" cy="362.33" r="1"/>
<circle cx="300.15" cy="366.99" r="1"/>
<text transform="translate(313.2 380.9) rotate(-45)" font-size="5.6" class="b e">IC<tspan font-size="3.47" dy="1.1">50</tspan></text>
<path class="bar" stroke-width="0.75" d="M308.25 374.3V361H314.15V374.3"/>
<path class="err" d="M311.2 358.34V363.66M309.7 358.34h3M309.7 363.66h3"/>
<circle cx="311.2" cy="349.69" r="1"/>
<circle cx="310" cy="361" r="1"/>
<circle cx="312.4" cy="362.33" r="1"/>
<circle cx="310.6" cy="364.99" r="1"/>
<circle cx="311.8" cy="367.65" r="1"/>
<text x="311.2" y="342.9" font-size="4.5" class="b m">ns</text>
<text transform="translate(329.1 380.9) rotate(-45)" font-size="5.1" class="b e">Control</text>
<path class="bar ctl" stroke-width="0.75" d="M324.15 374.3V367.65H330.05V374.3"/>
<rect x="323.9" y="366.85" width="6.4" height="1.6" rx="0.6"/>
<text transform="translate(338.65 380.9) rotate(-45)" font-size="5.6" class="b e">IC<tspan font-size="3.47" dy="1.1">20</tspan></text>
<path class="bar" stroke-width="0.75" d="M333.7 374.3V354.02H339.6V374.3"/>
<path class="err" d="M336.65 350.36V357.68M335.15 350.36h3M335.15 357.68h3"/>
<rect x="335.65" y="333" width="2" height="2"/>
<rect x="335.15" y="342.71" width="2" height="2"/>
<rect x="337.65" y="342.05" width="2" height="2"/>
<rect x="335.05" y="352.02" width="2" height="2"/>
<rect x="336.25" y="356.68" width="2" height="2"/>
<rect x="333.65" y="362.66" width="2" height="2"/>
<rect x="337.65" y="361.66" width="2" height="2"/>
<text transform="translate(348.2 380.9) rotate(-45)" font-size="5.6" class="b e">IC<tspan font-size="3.47" dy="1.1">50</tspan></text>
<path class="bar" stroke-width="0.75" d="M343.25 374.3V360H349.15V374.3"/>
<path class="err" d="M346.2 358.01V362M344.7 358.01h3M344.7 362h3"/>
<rect x="345.2" y="342.05" width="2" height="2"/>
<rect x="343.7" y="354.68" width="2" height="2"/>
<rect x="346.2" y="354.68" width="2" height="2"/>
<rect x="344.6" y="358" width="2" height="2"/>
<rect x="345.8" y="360" width="2" height="2"/>
<rect x="343.7" y="361.33" width="2" height="2"/>
<rect x="346.7" y="362.66" width="2" height="2"/>
<text transform="translate(364.1 380.9) rotate(-45)" font-size="5.1" class="b e">Control</text>
<path class="bar ctl" stroke-width="0.75" d="M359.15 374.3V367.65H365.05V374.3"/>
<rect x="358.9" y="366.85" width="6.4" height="1.6" rx="0.6"/>
<text transform="translate(373.65 380.9) rotate(-45)" font-size="5.6" class="b e">IC<tspan font-size="3.47" dy="1.1">20</tspan></text>
<path class="bar" stroke-width="0.75" d="M368.7 374.3V372.31H374.6V374.3"/>
<path class="err" d="M371.65 370.31V374.3M370.15 370.31h3M370.15 374.3h3"/>
<path d="M371.65 359.24L372.75 361.14L370.55 361.14Z"/>
<path d="M370.65 368.88L371.75 370.78L369.55 370.78Z"/>
<path d="M372.65 368.88L373.75 370.78L371.55 370.78Z"/>
<path d="M371.05 371.2L372.15 373.11L369.95 373.11Z"/>
<path d="M372.25 371.87L373.35 373.77L371.15 373.77Z"/>
<path d="M370.15 373.2L371.25 375.1L369.05 375.1Z"/>
<text transform="translate(383.2 380.9) rotate(-45)" font-size="5.6" class="b e">IC<tspan font-size="3.47" dy="1.1">50</tspan></text>
<path class="bar" stroke-width="0.75" d="M378.25 374.3V352.02H384.15V374.3"/>
<path class="err" d="M381.2 349.36V354.68M379.7 349.36h3M379.7 354.68h3"/>
<path d="M381.2 332.9L382.3 334.8L380.1 334.8Z"/>
<path d="M381.2 343.61L382.3 345.51L380.1 345.51Z"/>
<path d="M381.2 345.6L382.3 347.5L380.1 347.5Z"/>
<path d="M380.6 351.92L381.7 353.82L379.5 353.82Z"/>
<path d="M381.8 356.57L382.9 358.48L380.7 358.48Z"/>
<path d="M379.7 359.24L380.8 361.14L378.6 361.14Z"/>
<text transform="translate(399.1 380.9) rotate(-45)" font-size="5.1" class="b e">Control</text>
<path class="bar ctl" stroke-width="0.75" d="M394.15 374.3V368.98H400.05V374.3"/>
<path class="err" d="M397.1 367.65V370.31M395.6 367.65h3M395.6 370.31h3"/>
<rect x="393.9" y="366.85" width="6.4" height="1.6" rx="0.6"/>
<path d="M397.1 374.74L398.2 372.83L396 372.83Z"/>
<text transform="translate(408.65 380.9) rotate(-45)" font-size="5.6" class="b e">IC<tspan font-size="3.47" dy="1.1">20</tspan></text>
<path class="bar" stroke-width="0.75" d="M403.7 374.3V362H409.6V374.3"/>
<path class="err" d="M406.65 360.67V363.33M405.15 360.67h3M405.15 363.33h3"/>
<path d="M408.65 358.44L409.75 356.54L407.55 356.54Z"/>
<path d="M407.15 360.11L408.25 358.2L406.05 358.2Z"/>
<path d="M407.85 362.1L408.95 360.2L406.75 360.2Z"/>
<path d="M406.05 362.77L407.15 360.87L404.95 360.87Z"/>
<path d="M407.25 368.09L408.35 366.19L406.15 366.19Z"/>
<text transform="translate(418.2 380.9) rotate(-45)" font-size="5.6" class="b e">IC<tspan font-size="3.47" dy="1.1">50</tspan></text>
<path class="bar" stroke-width="0.75" d="M413.25 374.3V344.38H419.15V374.3"/>
<path class="err" d="M416.2 341.05V347.7M414.7 341.05h3M414.7 347.7h3"/>
<path d="M416.2 331.7L417.3 329.8L415.1 329.8Z"/>
<path d="M416.2 338.1L417.3 336.2L415.1 336.2Z"/>
<path d="M417.7 345.48L418.8 343.57L416.6 343.57Z"/>
<path d="M416.2 356.78L417.3 354.88L415.1 354.88Z"/>
<text transform="translate(434.1 380.9) rotate(-45)" font-size="5.1" class="b e">Control</text>
<path class="bar ctl" stroke-width="0.75" d="M429.15 374.3V367.65H435.05V374.3"/>
<rect x="428.9" y="366.85" width="6.4" height="1.6" rx="0.6"/>
<text transform="translate(443.65 380.9) rotate(-45)" font-size="5.6" class="b e">IC<tspan font-size="3.47" dy="1.1">20</tspan></text>
<path class="bar" stroke-width="0.75" d="M438.7 374.3V353.02H444.6V374.3"/>
<path class="err" d="M441.65 351.02V355.01M440.15 351.02h3M440.15 355.01h3"/>
<path d="M441.65 338.52L442.85 339.72L441.65 340.92L440.45 339.72Z"/>
<path d="M443.15 344.84L444.35 346.04L443.15 347.24L441.95 346.04Z"/>
<path d="M441.65 346.5L442.85 347.7L441.65 348.9L440.45 347.7Z"/>
<path d="M441.05 353.15L442.25 354.35L441.05 355.55L439.85 354.35Z"/>
<path d="M442.25 353.81L443.45 355.01L442.25 356.21L441.05 355.01Z"/>
<path d="M440.15 355.81L441.35 357.01L440.15 358.21L438.95 357.01Z"/>
<path d="M443.15 357.14L444.35 358.34L443.15 359.54L441.95 358.34Z"/>
<text transform="translate(453.2 380.9) rotate(-45)" font-size="5.6" class="b e">IC<tspan font-size="3.47" dy="1.1">50</tspan></text>
<path class="bar" stroke-width="0.75" d="M448.25 374.3V354.02H454.15V374.3"/>
<path class="err" d="M451.2 350.69V357.34M449.7 350.69h3M449.7 357.34h3"/>
<path d="M451.2 337.86L452.4 339.06L451.2 340.25L450 339.06Z"/>
<path d="M453.2 346.5L454.4 347.7L453.2 348.9L452 347.7Z"/>
<path d="M450.2 347.83L451.4 349.03L450.2 350.23L449 349.03Z"/>
<path d="M452.2 348.5L453.4 349.69L452.2 350.89L451 349.69Z"/>
<path d="M451.8 353.81L453 355.01L451.8 356.21L450.6 355.01Z"/>
<path d="M451.2 364.46L452.4 365.66L451.2 366.86L450 365.66Z"/>
<path class="ax" d="M292.1 374.3v2.2M301.65 374.3v2.2M311.2 374.3v2.2M327.1 374.3v2.2M336.65 374.3v2.2M346.2 374.3v2.2M362.1 374.3v2.2M371.65 374.3v2.2M381.2 374.3v2.2M397.1 374.3v2.2M406.65 374.3v2.2M416.2 374.3v2.2M432.1 374.3v2.2M441.65 374.3v2.2M451.2 374.3v2.2"/>
<text x="479.6" y="280.2" font-size="9.2" class="b">I.</text>
<text x="594.4" y="278" font-size="9.6" class="b" textLength="33.2" lengthAdjust="spacingAndGlyphs">H<tspan font-size="6.8" dy="2.4">2</tspan><tspan dy="-2.4">O</tspan><tspan font-size="6.8" dy="2.4">2</tspan><tspan dy="-2.4"> 5d</tspan></text>
<path class="ax" d="M524.5 279.3V335M524.5 338V375.2H685"/>
<path class="ax" d="M523.1 335H524.8M523.3 338H525.7"/>
<text x="522.5" y="282.12" font-size="6.05" class="b e">2000</text>
<text x="522.5" y="296.12" font-size="6.05" class="b e">1500</text>
<text x="522.5" y="310.12" font-size="6.05" class="b e">1000</text>
<text x="522.5" y="324.12" font-size="6.05" class="b e">500</text>
<text x="521.9" y="377.62" font-size="6.5" class="b e">0</text>
<text x="521.9" y="370.32" font-size="6.5" class="b e">1</text>
<text x="521.9" y="363.02" font-size="6.5" class="b e">2</text>
<text x="521.9" y="355.72" font-size="6.5" class="b e">3</text>
<text x="521.9" y="348.42" font-size="6.5" class="b e">4</text>
<text x="521.9" y="341.12" font-size="6.5" class="b e">5</text>
<path class="ax" d="M522.2 279.6H524.5M522.2 293.6H524.5M522.2 307.6H524.5M522.2 321.6H524.5M522.2 375.2H524.5M522.2 367.9H524.5M522.2 360.6H524.5M522.2 353.3H524.5M522.2 346H524.5M522.2 338.7H524.5"/>
<circle cx="533" cy="280" r="1.05"/>
<text x="538" y="281.85" font-size="5.15" class="b">BCL6</text>
<rect x="531.95" y="285.45" width="2.1" height="2.1"/>
<text x="538" y="288.35" font-size="5.15" class="b">TNFSF13B</text>
<path d="M533 292.25L534.15 294.24L531.85 294.24Z"/>
<text x="538" y="295.25" font-size="5.15" class="b">IGHM</text>
<path d="M533 301.05L534.15 299.06L531.85 299.06Z"/>
<text x="538" y="301.75" font-size="5.15" class="b">IGHG1</text>
<path d="M533 305.54L534.26 306.8L533 308.06L531.74 306.8Z"/>
<text x="538" y="308.65" font-size="5.15" class="b">IGHA1</text>
<text transform="translate(532.3 381.8) rotate(-45)" font-size="5.1" class="b e">Control</text>
<path class="bar ctl" stroke-width="0.75" d="M527.45 375.2V367.9H533.15V375.2"/>
<rect x="527.2" y="367.1" width="6.2" height="1.6" rx="0.6"/>
<text transform="translate(541.15 381.8) rotate(-45)" font-size="5.6" class="b e">IC<tspan font-size="3.47" dy="1.1">20</tspan></text>
<path class="bar" stroke-width="0.75" d="M536.3 375.2V363.88H542V375.2"/>
<path class="err" d="M539.15 362.43V365.34M537.65 362.43h3M537.65 365.34h3"/>
<circle cx="539.15" cy="356.58" r="1"/>
<circle cx="537.95" cy="361.33" r="1"/>
<circle cx="540.35" cy="362.79" r="1"/>
<circle cx="538.55" cy="364.25" r="1"/>
<circle cx="539.75" cy="365.71" r="1"/>
<circle cx="537.65" cy="366.44" r="1"/>
<text x="539.15" y="351.3" font-size="4.5" class="b m">ns</text>
<text transform="translate(550 381.8) rotate(-45)" font-size="5.6" class="b e">IC<tspan font-size="3.47" dy="1.1">50</tspan></text>
<path class="bar" stroke-width="0.75" d="M545.15 375.2V362.06H550.85V375.2"/>
<path class="err" d="M548 360.96V363.16M546.5 360.96h3M546.5 363.16h3"/>
<circle cx="548" cy="356.95" r="1"/>
<circle cx="546.8" cy="359.87" r="1"/>
<circle cx="549.2" cy="361.33" r="1"/>
<circle cx="547.4" cy="362.06" r="1"/>
<circle cx="548.6" cy="363.52" r="1"/>
<circle cx="546.5" cy="364.25" r="1"/>
<text x="548" y="351.3" font-size="4.5" class="b m">ns</text>
<text transform="translate(564.7 381.8) rotate(-45)" font-size="5.1" class="b e">Control</text>
<path class="bar ctl" stroke-width="0.75" d="M559.85 375.2V367.9H565.55V375.2"/>
<rect x="559.6" y="367.1" width="6.2" height="1.6" rx="0.6"/>
<text transform="translate(573.55 381.8) rotate(-45)" font-size="5.6" class="b e">IC<tspan font-size="3.47" dy="1.1">20</tspan></text>
<path class="bar" stroke-width="0.75" d="M568.7 375.2V356.58H574.4V375.2"/>
<path class="err" d="M571.55 354.03V359.14M570.05 354.03h3M570.05 359.14h3"/>
<rect x="570.55" y="336.24" width="2" height="2"/>
<rect x="570.55" y="346.46" width="2" height="2"/>
<rect x="570.55" y="348.65" width="2" height="2"/>
<rect x="569.95" y="355.95" width="2" height="2"/>
<rect x="571.15" y="357.41" width="2" height="2"/>
<rect x="569.05" y="359.6" width="2" height="2"/>
<rect x="570.55" y="364.71" width="2" height="2"/>
<text transform="translate(582.4 381.8) rotate(-45)" font-size="5.6" class="b e">IC<tspan font-size="3.47" dy="1.1">50</tspan></text>
<path class="bar" stroke-width="0.75" d="M577.55 375.2V355.49H583.25V375.2"/>
<path class="err" d="M580.4 352.57V358.41M578.9 352.57h3M578.9 358.41h3"/>
<rect x="579.4" y="332.6" width="2" height="2"/>
<rect x="579.4" y="342.08" width="2" height="2"/>
<rect x="579.4" y="350.84" width="2" height="2"/>
<rect x="578.8" y="355.95" width="2" height="2"/>
<rect x="580" y="357.41" width="2" height="2"/>
<rect x="579.4" y="363.98" width="2" height="2"/>
<text transform="translate(597.1 381.8) rotate(-45)" font-size="5.1" class="b e">Control</text>
<path class="bar ctl" stroke-width="0.75" d="M592.25 375.2V367.9H597.95V375.2"/>
<rect x="592" y="367.1" width="6.2" height="1.6" rx="0.6"/>
<text transform="translate(605.95 381.8) rotate(-45)" font-size="5.6" class="b e">IC<tspan font-size="3.47" dy="1.1">20</tspan></text>
<path class="bar" stroke-width="0.75" d="M601.1 375.2V339.06H606.8V375.2"/>
<path d="M602.45 334.9L603.55 336.8L601.35 336.8Z"/>
<path d="M603.95 334.9L605.05 336.8L602.85 336.8Z"/>
<path d="M605.45 334.9L606.55 336.8L604.35 336.8Z"/>
<path d="M604.75 339.79L605.85 341.69L603.65 341.69Z"/>
<path d="M603.45 341.61L604.55 343.51L602.35 343.51Z"/>
<text x="603.95" y="330.2" font-size="5.6" class="b m n">**</text>
<text transform="translate(614.8 381.8) rotate(-45)" font-size="5.6" class="b e">IC<tspan font-size="3.47" dy="1.1">50</tspan></text>
<path class="bar" stroke-width="0.75" d="M609.95 375.2V338.7M615.65 375.2V338.7"/>
<path class="bar" stroke-width="0.75" d="M609.95 335V328.5H615.65V335"/>
<path d="M610.8 329.2L611.9 331.1L609.7 331.1Z"/>
<path d="M614.8 328.2L615.9 330.1L613.7 330.1Z"/>
<path d="M611.9 327.7L613 329.6L610.8 329.6Z"/>
<path d="M613.7 326.7L614.8 328.6L612.6 328.6Z"/>
<path d="M612.8 325.7L613.9 327.6L611.7 327.6Z"/>
<path d="M611 327.2L612.1 329.1L609.9 329.1Z"/>
<path d="M614.7 326.2L615.8 328.1L613.6 328.1Z"/>
<text x="612.8" y="320.2" font-size="5.6" class="b m n">***</text>
<text transform="translate(629.5 381.8) rotate(-45)" font-size="5.1" class="b e">Control</text>
<path class="bar ctl" stroke-width="0.75" d="M624.65 375.2V368.63H630.35V375.2"/>
<path class="err" d="M627.5 367.17V370.09M626 367.17h3M626 370.09h3"/>
<rect x="624.4" y="366.73" width="6.2" height="1.6" rx="0.6"/>
<path d="M627.5 375.57L628.6 373.67L626.4 373.67Z"/>
<path d="M627.5 370.1L628.6 368.19L626.4 368.19Z"/>
<text transform="translate(638.35 381.8) rotate(-45)" font-size="5.6" class="b e">IC<tspan font-size="3.47" dy="1.1">20</tspan></text>
<path class="bar" stroke-width="0.75" d="M633.5 375.2V338.7M639.2 375.2V338.7"/>
<rect x="633.6" y="333.8" width="5.5" height="1.6" rx="0.6"/>
<text x="636.35" y="328.6" font-size="5.6" class="b m n">***</text>
<text transform="translate(647.2 381.8) rotate(-45)" font-size="5.6" class="b e">IC<tspan font-size="3.47" dy="1.1">50</tspan></text>
<path class="bar" stroke-width="0.75" d="M642.35 375.2V338.7M648.05 375.2V338.7"/>
<path d="M643 335.3L644.1 333.4L641.9 333.4Z"/>
<path d="M644.2 334.1L645.3 332.2L643.1 332.2Z"/>
<path d="M645.5 333.5L646.6 331.6L644.4 331.6Z"/>
<path d="M646.6 334.1L647.7 332.2L645.5 332.2Z"/>
<path d="M647.6 335.1L648.7 333.2L646.5 333.2Z"/>
<path d="M645.2 334.9L646.3 333L644.1 333Z"/>
<text x="645.2" y="328" font-size="5.6" class="b m n">***</text>
<text transform="translate(661.9 381.8) rotate(-45)" font-size="5.1" class="b e">Control</text>
<path class="bar ctl" stroke-width="0.75" d="M657.05 375.2V367.9H662.75V375.2"/>
<rect x="656.8" y="367.1" width="6.2" height="1.6" rx="0.6"/>
<text transform="translate(670.75 381.8) rotate(-45)" font-size="5.6" class="b e">IC<tspan font-size="3.47" dy="1.1">20</tspan></text>
<path class="bar" stroke-width="0.75" d="M665.9 375.2V339.06H671.6V375.2"/>
<rect x="666" y="334.2" width="5.5" height="1.6" rx="0.6"/>
<path d="M669.25 340.79L670.45 341.99L669.25 343.19L668.05 341.99Z"/>
<path d="M668.25 342.98L669.45 344.18L668.25 345.38L667.05 344.18Z"/>
<text x="668.75" y="328.6" font-size="5.6" class="b m n">***</text>
<text transform="translate(679.6 381.8) rotate(-45)" font-size="5.6" class="b e">IC<tspan font-size="3.47" dy="1.1">50</tspan></text>
<path class="bar" stroke-width="0.75" d="M674.75 375.2V338.7M680.45 375.2V338.7"/>
<rect x="674.85" y="333.2" width="5.5" height="1.6" rx="0.6"/>
<text x="677.6" y="327.2" font-size="5.6" class="b m n">***</text>
<path class="ax" d="M530.3 375.2v2.2M539.15 375.2v2.2M548 375.2v2.2M562.7 375.2v2.2M571.55 375.2v2.2M580.4 375.2v2.2M595.1 375.2v2.2M603.95 375.2v2.2M612.8 375.2v2.2M627.5 375.2v2.2M636.35 375.2v2.2M645.2 375.2v2.2M659.9 375.2v2.2M668.75 375.2v2.2M677.6 375.2v2.2"/>
</svg>
</body></html>
